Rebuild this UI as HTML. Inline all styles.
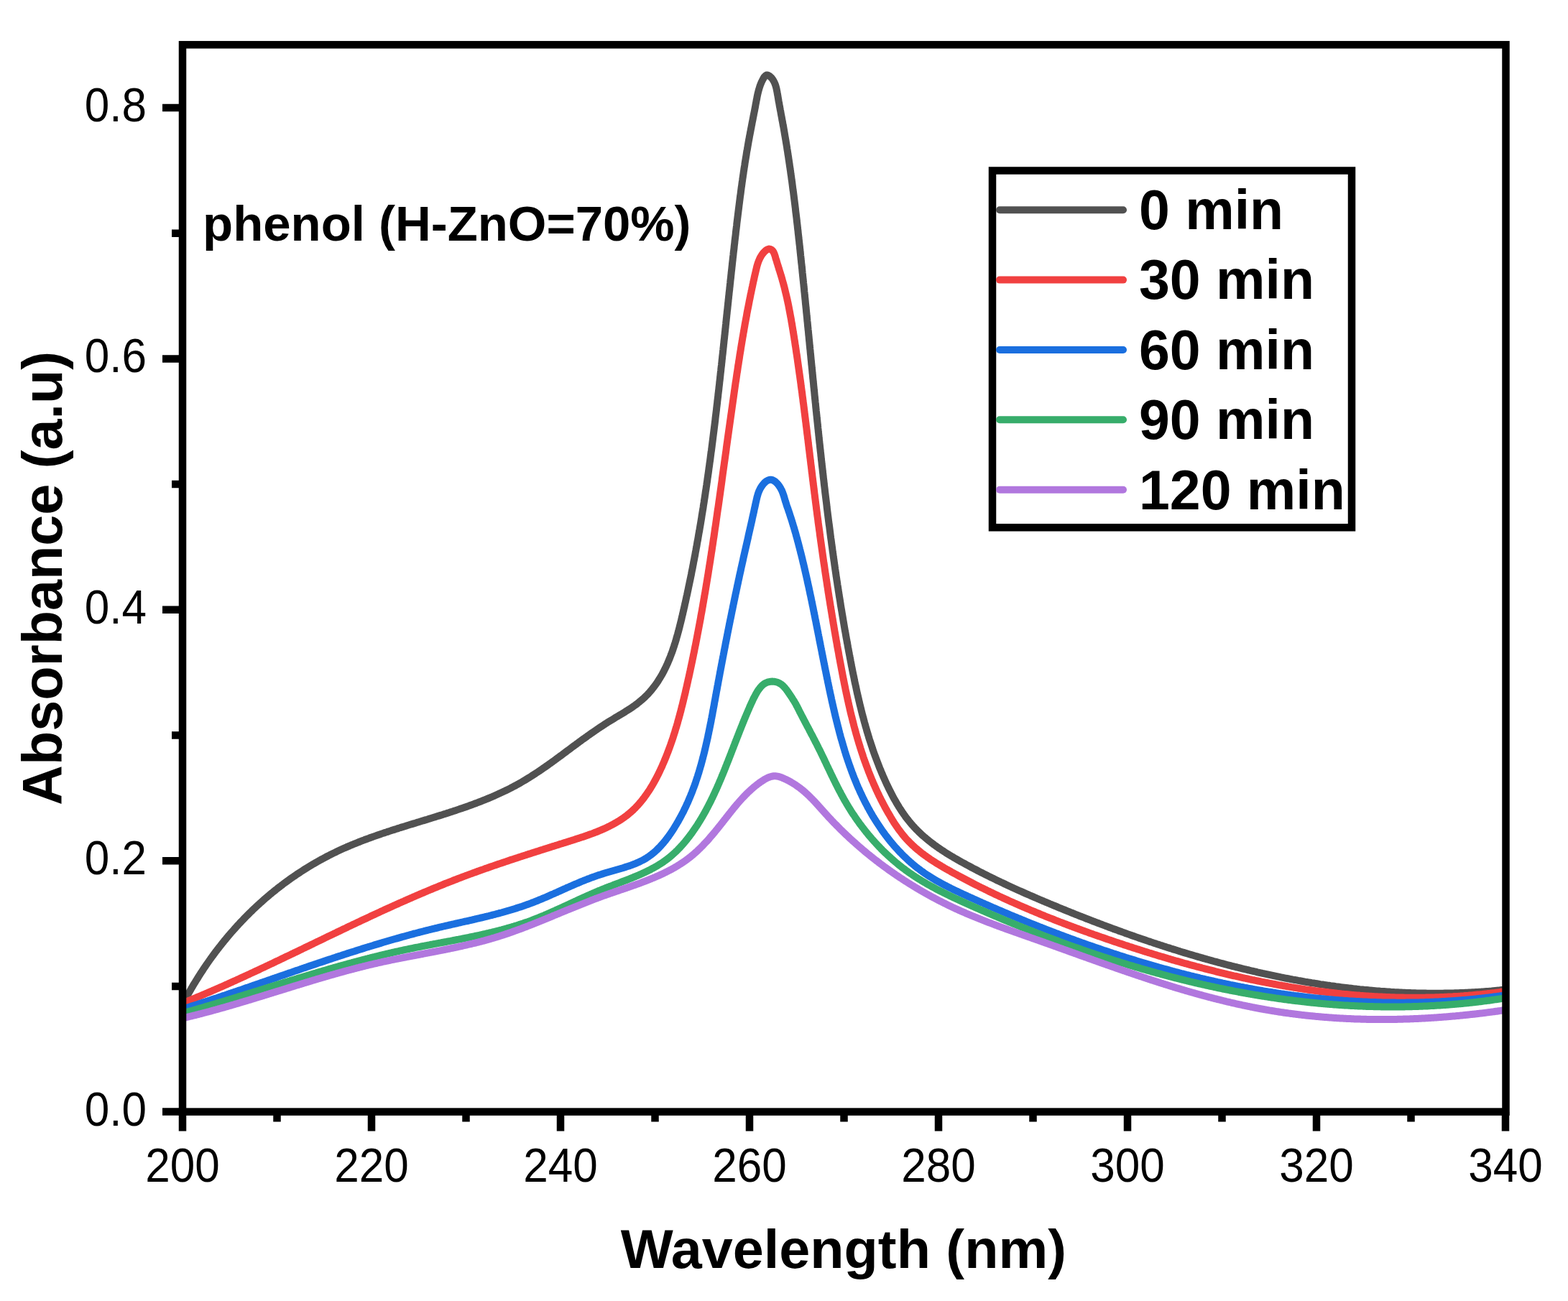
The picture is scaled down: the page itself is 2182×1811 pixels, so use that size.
<!DOCTYPE html><html><head><meta charset="utf-8"><style>html,body{margin:0;padding:0;background:#fff;overflow:hidden;}svg{display:block;}text{font-family:'Liberation Sans', Arial, sans-serif;}</style></head><body>
<svg width="2182" height="1811" viewBox="0 0 2182 1811">
<rect width="2182" height="1811" fill="#fff"/>
<defs><clipPath id="c"><rect x="254.0" y="62.3" width="1841.5" height="1485.3"/></clipPath></defs>
<g clip-path="url(#c)" fill="none" stroke-width="10" stroke-linejoin="round" stroke-linecap="round">
<path d="M260.3,1386.5 L261.5,1384.4 L262.7,1382.2 L264.0,1380.0 L265.2,1377.9 L266.4,1375.8 L267.7,1373.6 L268.9,1371.5 L270.2,1369.4 L271.5,1367.3 L272.8,1365.2 L274.1,1363.1 L275.4,1361.0 L276.7,1358.9 L278.0,1356.8 L279.3,1354.8 L280.7,1352.7 L282.0,1350.7 L283.4,1348.6 L284.7,1346.6 L286.1,1344.6 L287.5,1342.5 L288.9,1340.5 L290.3,1338.5 L291.7,1336.5 L293.1,1334.5 L294.5,1332.6 L296.0,1330.6 L297.4,1328.6 L298.9,1326.7 L300.3,1324.7 L301.8,1322.8 L303.3,1320.8 L304.8,1318.9 L306.3,1317.0 L307.8,1315.1 L309.3,1313.2 L310.8,1311.3 L312.3,1309.4 L313.9,1307.6 L315.4,1305.7 L317.0,1303.8 L318.5,1302.0 L320.1,1300.1 L321.7,1298.3 L323.3,1296.5 L324.9,1294.7 L326.5,1292.9 L328.1,1291.1 L329.7,1289.3 L331.4,1287.5 L333.0,1285.7 L334.6,1284.0 L336.3,1282.2 L338.0,1280.5 L339.6,1278.8 L341.3,1277.0 L343.0,1275.3 L344.7,1273.6 L346.4,1271.9 L348.1,1270.2 L349.8,1268.6 L351.5,1266.9 L353.3,1265.2 L355.0,1263.6 L356.8,1261.9 L358.5,1260.3 L360.3,1258.7 L362.1,1257.1 L363.9,1255.5 L365.6,1253.9 L367.4,1252.3 L369.2,1250.7 L371.1,1249.2 L372.9,1247.6 L374.7,1246.1 L376.5,1244.5 L378.4,1243.0 L380.2,1241.5 L382.1,1240.0 L384.0,1238.5 L385.8,1237.0 L387.7,1235.5 L389.6,1234.1 L391.5,1232.6 L393.4,1231.2 L395.3,1229.7 L397.2,1228.3 L399.2,1226.9 L401.1,1225.5 L403.0,1224.1 L405.0,1222.7 L406.9,1221.4 L408.9,1220.0 L410.9,1218.7 L412.8,1217.3 L414.8,1216.0 L416.8,1214.7 L418.8,1213.4 L420.8,1212.1 L422.8,1210.8 L424.8,1209.5 L426.9,1208.2 L428.9,1207.0 L430.9,1205.8 L433.0,1204.5 L435.0,1203.3 L437.1,1202.1 L439.2,1200.9 L441.2,1199.7 L443.3,1198.5 L445.4,1197.4 L447.5,1196.2 L449.6,1195.1 L451.7,1194.0 L453.8,1192.8 L455.9,1191.7 L458.1,1190.6 L460.2,1189.5 L462.3,1188.5 L464.5,1187.4 L466.6,1186.4 L468.8,1185.3 L471.0,1184.3 L473.1,1183.3 L475.3,1182.3 L477.5,1181.3 L479.7,1180.3 L481.9,1179.4 L484.1,1178.4 L486.3,1177.5 L488.5,1176.5 L490.8,1175.6 L493.0,1174.7 L495.2,1173.8 L497.5,1172.9 L499.7,1172.0 L501.9,1171.1 L504.2,1170.2 L506.5,1169.4 L508.7,1168.5 L511.0,1167.7 L513.3,1166.9 L515.5,1166.0 L517.8,1165.2 L520.1,1164.4 L522.4,1163.6 L524.7,1162.8 L527.0,1162.0 L529.3,1161.2 L531.6,1160.4 L533.9,1159.6 L536.2,1158.9 L538.5,1158.1 L540.8,1157.4 L543.1,1156.6 L545.4,1155.8 L547.7,1155.1 L550.1,1154.4 L552.4,1153.6 L554.7,1152.9 L557.0,1152.1 L559.4,1151.4 L561.7,1150.7 L564.0,1150.0 L566.3,1149.2 L568.7,1148.5 L571.0,1147.8 L573.3,1147.1 L575.7,1146.4 L578.0,1145.7 L580.3,1144.9 L582.7,1144.2 L585.0,1143.5 L587.3,1142.8 L589.7,1142.1 L592.0,1141.4 L594.4,1140.7 L596.7,1139.9 L599.0,1139.2 L601.3,1138.5 L603.7,1137.8 L606.0,1137.1 L608.3,1136.3 L610.7,1135.6 L613.0,1134.9 L615.3,1134.2 L617.6,1133.4 L619.9,1132.7 L622.3,1131.9 L624.6,1131.2 L626.9,1130.4 L629.2,1129.7 L631.5,1128.9 L633.8,1128.2 L636.1,1127.4 L638.4,1126.6 L640.7,1125.8 L643.0,1125.1 L645.3,1124.3 L647.6,1123.5 L649.8,1122.7 L652.1,1121.9 L654.4,1121.0 L656.7,1120.2 L658.9,1119.4 L661.2,1118.5 L663.4,1117.7 L665.7,1116.8 L667.9,1116.0 L670.2,1115.1 L672.4,1114.2 L674.6,1113.3 L676.9,1112.4 L679.1,1111.5 L681.3,1110.6 L683.5,1109.7 L685.7,1108.7 L687.9,1107.8 L690.1,1106.8 L692.3,1105.8 L694.4,1104.8 L696.6,1103.8 L698.8,1102.8 L700.9,1101.8 L703.1,1100.8 L705.2,1099.7 L707.3,1098.7 L709.5,1097.6 L711.6,1096.5 L713.7,1095.4 L715.8,1094.3 L717.9,1093.2 L720.0,1092.0 L722.1,1090.9 L724.1,1089.7 L726.2,1088.5 L728.2,1087.3 L730.3,1086.1 L732.3,1084.9 L734.4,1083.6 L736.4,1082.4 L738.4,1081.1 L740.4,1079.8 L742.4,1078.5 L744.4,1077.2 L746.4,1075.9 L748.4,1074.6 L750.4,1073.3 L752.4,1071.9 L754.3,1070.6 L756.3,1069.2 L758.3,1067.8 L760.2,1066.5 L762.2,1065.1 L764.1,1063.7 L766.1,1062.3 L768.1,1060.9 L770.0,1059.5 L772.0,1058.1 L773.9,1056.6 L775.8,1055.2 L777.8,1053.8 L779.7,1052.4 L781.7,1050.9 L783.6,1049.5 L785.6,1048.0 L787.5,1046.6 L789.5,1045.1 L791.4,1043.7 L793.4,1042.2 L795.3,1040.8 L797.3,1039.3 L799.2,1037.9 L801.2,1036.5 L803.1,1035.0 L805.1,1033.6 L807.1,1032.1 L809.1,1030.7 L811.0,1029.2 L813.0,1027.8 L815.0,1026.4 L817.0,1024.9 L819.0,1023.5 L821.0,1022.1 L823.0,1020.7 L825.0,1019.3 L827.1,1017.9 L829.1,1016.5 L831.1,1015.1 L833.2,1013.7 L835.2,1012.3 L837.3,1011.0 L839.4,1009.6 L841.4,1008.3 L843.5,1006.9 L845.6,1005.6 L847.7,1004.3 L849.8,1003.0 L852.0,1001.7 L854.1,1000.4 L856.2,999.1 L858.4,997.8 L860.5,996.6 L862.6,995.3 L864.8,994.0 L866.9,992.7 L869.0,991.4 L871.1,990.1 L873.2,988.8 L875.2,987.5 L877.3,986.2 L879.3,984.8 L881.3,983.4 L883.3,982.0 L885.2,980.6 L887.1,979.2 L889.0,977.7 L890.8,976.2 L892.6,974.7 L894.4,973.2 L896.1,971.6 L897.8,970.0 L899.5,968.3 L901.1,966.7 L902.7,965.0 L904.2,963.3 L905.7,961.5 L907.2,959.7 L908.6,957.9 L910.0,956.1 L911.4,954.3 L912.8,952.4 L914.1,950.5 L915.4,948.6 L916.6,946.6 L917.8,944.7 L919.0,942.7 L920.2,940.7 L921.4,938.7 L922.5,936.6 L923.6,934.6 L924.6,932.5 L925.7,930.4 L926.7,928.3 L927.7,926.2 L928.7,924.0 L929.6,921.8 L930.5,919.7 L931.4,917.5 L932.3,915.3 L933.2,913.0 L934.0,910.8 L934.9,908.6 L935.7,906.3 L936.5,904.0 L937.2,901.7 L938.0,899.5 L938.7,897.1 L939.5,894.8 L940.2,892.5 L940.9,890.2 L941.5,887.8 L942.2,885.5 L942.9,883.1 L943.5,880.8 L944.2,878.4 L944.8,876.0 L945.4,873.7 L946.0,871.3 L946.6,868.9 L947.2,866.5 L947.8,864.1 L948.4,861.7 L948.9,859.3 L949.5,856.9 L950.1,854.5 L950.6,852.1 L951.2,849.7 L951.7,847.3 L952.3,844.9 L952.8,842.5 L953.3,840.1 L953.9,837.7 L954.4,835.3 L954.9,832.9 L955.4,830.5 L956.0,828.1 L956.5,825.7 L957.0,823.3 L957.5,820.9 L958.0,818.5 L958.5,816.1 L959.0,813.7 L959.5,811.3 L960.0,808.9 L960.5,806.6 L961.0,804.2 L961.5,801.8 L962.0,799.4 L962.4,797.0 L962.9,794.6 L963.4,792.2 L963.9,789.8 L964.3,787.4 L964.8,785.0 L965.2,782.6 L965.7,780.2 L966.2,777.8 L966.6,775.4 L967.1,773.1 L967.5,770.7 L967.9,768.3 L968.4,765.9 L968.8,763.5 L969.3,761.1 L969.7,758.7 L970.1,756.3 L970.5,753.9 L971.0,751.6 L971.4,749.2 L971.8,746.8 L972.2,744.4 L972.6,742.0 L973.1,739.6 L973.5,737.2 L973.9,734.8 L974.3,732.4 L974.7,730.1 L975.1,727.7 L975.5,725.3 L975.9,722.9 L976.3,720.5 L976.6,718.1 L977.0,715.7 L977.4,713.4 L977.8,711.0 L978.2,708.6 L978.6,706.2 L978.9,703.8 L979.3,701.4 L979.7,699.0 L980.0,696.7 L980.4,694.3 L980.8,691.9 L981.1,689.5 L981.5,687.1 L981.8,684.7 L982.2,682.4 L982.6,680.0 L982.9,677.6 L983.3,675.2 L983.6,672.8 L984.0,670.4 L984.3,668.1 L984.6,665.7 L985.0,663.3 L985.3,660.9 L985.7,658.5 L986.0,656.1 L986.3,653.8 L986.6,651.4 L987.0,649.0 L987.3,646.6 L987.6,644.2 L988.0,641.8 L988.3,639.5 L988.6,637.1 L988.9,634.7 L989.2,632.3 L989.5,629.9 L989.9,627.5 L990.2,625.2 L990.5,622.8 L990.8,620.4 L991.1,618.0 L991.4,615.6 L991.7,613.3 L992.0,610.9 L992.3,608.5 L992.6,606.1 L992.9,603.7 L993.2,601.3 L993.5,599.0 L993.8,596.6 L994.1,594.2 L994.4,591.8 L994.7,589.4 L995.0,587.0 L995.3,584.7 L995.5,582.3 L995.8,579.9 L996.1,577.5 L996.4,575.1 L996.7,572.7 L997.0,570.4 L997.2,568.0 L997.5,565.6 L997.8,563.2 L998.1,560.8 L998.3,558.4 L998.6,556.1 L998.9,553.7 L999.2,551.3 L999.4,548.9 L999.7,546.5 L1000.0,544.1 L1000.3,541.7 L1000.5,539.4 L1000.8,537.0 L1001.1,534.6 L1001.3,532.2 L1001.6,529.8 L1001.9,527.4 L1002.1,525.0 L1002.4,522.7 L1002.6,520.3 L1002.9,517.9 L1003.2,515.5 L1003.4,513.1 L1003.7,510.7 L1004.0,508.3 L1004.2,506.0 L1004.5,503.6 L1004.7,501.2 L1005.0,498.8 L1005.2,496.4 L1005.5,494.0 L1005.8,491.6 L1006.0,489.2 L1006.3,486.8 L1006.5,484.5 L1006.8,482.1 L1007.0,479.7 L1007.3,477.3 L1007.5,474.9 L1007.8,472.5 L1008.1,470.1 L1008.3,467.7 L1008.6,465.3 L1008.8,462.9 L1009.1,460.6 L1009.3,458.2 L1009.6,455.8 L1009.8,453.4 L1010.1,451.0 L1010.3,448.6 L1010.6,446.2 L1010.8,443.8 L1011.1,441.4 L1011.3,439.0 L1011.6,436.6 L1011.8,434.2 L1012.1,431.8 L1012.4,429.4 L1012.6,427.0 L1012.9,424.6 L1013.1,422.2 L1013.4,419.8 L1013.6,417.4 L1013.9,415.1 L1014.1,412.7 L1014.4,410.3 L1014.6,407.9 L1014.9,405.5 L1015.2,403.1 L1015.4,400.7 L1015.7,398.3 L1015.9,395.9 L1016.2,393.5 L1016.4,391.1 L1016.7,388.7 L1017.0,386.3 L1017.2,383.8 L1017.5,381.4 L1017.7,379.0 L1018.0,376.6 L1018.3,374.2 L1018.5,371.8 L1018.8,369.4 L1019.0,367.0 L1019.3,364.6 L1019.6,362.2 L1019.8,359.8 L1020.1,357.4 L1020.4,355.0 L1020.6,352.6 L1020.9,350.2 L1021.2,347.8 L1021.5,345.4 L1021.7,342.9 L1022.0,340.5 L1022.3,338.1 L1022.5,335.7 L1022.8,333.3 L1023.1,330.9 L1023.4,328.5 L1023.7,326.1 L1023.9,323.6 L1024.2,321.2 L1024.5,318.8 L1024.8,316.4 L1025.1,314.0 L1025.3,311.6 L1025.6,309.2 L1025.9,306.7 L1026.2,304.3 L1026.5,301.9 L1026.8,299.5 L1027.1,297.1 L1027.4,294.7 L1027.7,292.2 L1028.0,289.8 L1028.3,287.4 L1028.6,285.0 L1028.9,282.6 L1029.2,280.2 L1029.5,277.8 L1029.8,275.3 L1030.1,272.9 L1030.5,270.5 L1030.8,268.1 L1031.1,265.7 L1031.4,263.3 L1031.7,260.9 L1032.1,258.5 L1032.4,256.1 L1032.7,253.7 L1033.1,251.2 L1033.4,248.8 L1033.8,246.4 L1034.1,244.0 L1034.5,241.6 L1034.8,239.2 L1035.2,236.8 L1035.5,234.5 L1035.9,232.1 L1036.3,229.7 L1036.6,227.3 L1037.0,224.9 L1037.4,222.5 L1037.8,220.1 L1038.2,217.7 L1038.6,215.4 L1038.9,213.0 L1039.3,210.6 L1039.8,208.2 L1040.2,205.9 L1040.6,203.5 L1041.0,201.1 L1041.4,198.7 L1041.8,196.4 L1042.3,194.0 L1042.7,191.7 L1043.1,189.3 L1043.6,187.0 L1044.0,184.6 L1044.5,182.3 L1044.9,179.9 L1045.4,177.6 L1045.8,175.2 L1046.3,172.9 L1046.7,170.5 L1047.2,168.2 L1047.7,165.8 L1048.1,163.5 L1048.6,161.1 L1049.0,158.8 L1049.5,156.5 L1050.0,154.1 L1050.4,151.7 L1050.9,149.4 L1051.3,147.0 L1051.7,144.7 L1052.2,142.3 L1052.6,139.9 L1053.1,137.6 L1053.5,135.2 L1054.0,132.8 L1054.5,130.5 L1055.1,128.1 L1055.7,125.7 L1056.4,123.4 L1057.1,121.1 L1057.9,118.7 L1058.8,116.4 L1059.8,114.1 L1060.9,111.8 L1062.1,109.6 L1063.4,107.4 L1064.9,105.7 L1066.5,104.6 L1068.3,104.5 L1070.2,105.4 L1072.0,106.9 L1073.7,108.5 L1075.1,110.3 L1076.3,112.2 L1077.4,114.3 L1078.4,116.5 L1079.2,118.7 L1079.9,121.1 L1080.5,123.5 L1081.0,126.0 L1081.5,128.5 L1081.9,131.0 L1082.4,133.5 L1082.8,136.0 L1083.2,138.4 L1083.6,140.9 L1084.1,143.3 L1084.5,145.8 L1084.9,148.2 L1085.4,150.6 L1085.8,152.9 L1086.3,155.3 L1086.7,157.7 L1087.1,160.0 L1087.6,162.4 L1088.0,164.7 L1088.4,167.1 L1088.9,169.4 L1089.3,171.8 L1089.7,174.1 L1090.2,176.4 L1090.6,178.8 L1091.0,181.1 L1091.4,183.5 L1091.8,185.8 L1092.2,188.2 L1092.6,190.5 L1093.0,192.9 L1093.4,195.2 L1093.8,197.6 L1094.2,200.0 L1094.6,202.3 L1095.0,204.7 L1095.3,207.0 L1095.7,209.4 L1096.1,211.8 L1096.4,214.1 L1096.8,216.5 L1097.2,218.9 L1097.5,221.3 L1097.9,223.6 L1098.2,226.0 L1098.6,228.4 L1098.9,230.8 L1099.3,233.1 L1099.6,235.5 L1100.0,237.9 L1100.3,240.3 L1100.6,242.7 L1101.0,245.0 L1101.3,247.4 L1101.6,249.8 L1102.0,252.2 L1102.3,254.6 L1102.6,257.0 L1102.9,259.4 L1103.2,261.8 L1103.5,264.1 L1103.9,266.5 L1104.2,268.9 L1104.5,271.3 L1104.8,273.7 L1105.1,276.1 L1105.4,278.5 L1105.7,280.9 L1106.0,283.3 L1106.3,285.7 L1106.6,288.1 L1106.9,290.5 L1107.1,292.9 L1107.4,295.3 L1107.7,297.7 L1108.0,300.1 L1108.3,302.5 L1108.6,304.9 L1108.8,307.3 L1109.1,309.7 L1109.4,312.1 L1109.7,314.5 L1109.9,316.9 L1110.2,319.3 L1110.5,321.7 L1110.7,324.2 L1111.0,326.6 L1111.3,329.0 L1111.5,331.4 L1111.8,333.8 L1112.1,336.2 L1112.3,338.6 L1112.6,341.0 L1112.9,343.4 L1113.1,345.8 L1113.4,348.2 L1113.6,350.6 L1113.9,353.1 L1114.1,355.5 L1114.4,357.9 L1114.6,360.3 L1114.9,362.7 L1115.1,365.1 L1115.4,367.5 L1115.7,369.9 L1115.9,372.3 L1116.2,374.7 L1116.4,377.1 L1116.6,379.5 L1116.9,382.0 L1117.1,384.4 L1117.4,386.8 L1117.6,389.2 L1117.9,391.6 L1118.1,394.0 L1118.4,396.4 L1118.6,398.8 L1118.9,401.2 L1119.1,403.6 L1119.3,406.0 L1119.6,408.4 L1119.8,410.9 L1120.1,413.3 L1120.3,415.7 L1120.6,418.1 L1120.8,420.5 L1121.0,422.9 L1121.3,425.3 L1121.5,427.7 L1121.8,430.1 L1122.0,432.5 L1122.2,434.9 L1122.5,437.3 L1122.7,439.7 L1123.0,442.1 L1123.2,444.6 L1123.4,447.0 L1123.7,449.4 L1123.9,451.8 L1124.1,454.2 L1124.4,456.6 L1124.6,459.0 L1124.9,461.4 L1125.1,463.8 L1125.3,466.2 L1125.6,468.6 L1125.8,471.0 L1126.0,473.4 L1126.3,475.8 L1126.5,478.2 L1126.7,480.6 L1127.0,483.0 L1127.2,485.5 L1127.5,487.9 L1127.7,490.3 L1127.9,492.7 L1128.2,495.1 L1128.4,497.5 L1128.6,499.9 L1128.9,502.3 L1129.1,504.7 L1129.3,507.1 L1129.6,509.5 L1129.8,511.9 L1130.1,514.3 L1130.3,516.7 L1130.5,519.1 L1130.8,521.5 L1131.0,523.9 L1131.2,526.3 L1131.5,528.7 L1131.7,531.1 L1132.0,533.5 L1132.2,535.9 L1132.4,538.3 L1132.7,540.7 L1132.9,543.1 L1133.2,545.5 L1133.4,547.9 L1133.6,550.3 L1133.9,552.7 L1134.1,555.2 L1134.4,557.6 L1134.6,560.0 L1134.9,562.4 L1135.1,564.8 L1135.3,567.2 L1135.6,569.6 L1135.8,572.0 L1136.1,574.4 L1136.3,576.8 L1136.6,579.2 L1136.8,581.6 L1137.1,584.0 L1137.3,586.4 L1137.6,588.8 L1137.8,591.2 L1138.1,593.6 L1138.3,596.0 L1138.6,598.4 L1138.8,600.8 L1139.1,603.2 L1139.3,605.6 L1139.6,608.0 L1139.8,610.4 L1140.1,612.8 L1140.3,615.2 L1140.6,617.6 L1140.9,620.0 L1141.1,622.4 L1141.4,624.8 L1141.6,627.1 L1141.9,629.5 L1142.2,631.9 L1142.4,634.3 L1142.7,636.7 L1142.9,639.1 L1143.2,641.5 L1143.5,643.9 L1143.7,646.3 L1144.0,648.7 L1144.3,651.1 L1144.6,653.5 L1144.8,655.9 L1145.1,658.3 L1145.4,660.7 L1145.6,663.1 L1145.9,665.5 L1146.2,667.9 L1146.5,670.3 L1146.7,672.7 L1147.0,675.1 L1147.3,677.5 L1147.6,679.9 L1147.9,682.3 L1148.1,684.7 L1148.4,687.0 L1148.7,689.4 L1149.0,691.8 L1149.3,694.2 L1149.6,696.6 L1149.9,699.0 L1150.2,701.4 L1150.5,703.8 L1150.7,706.2 L1151.0,708.6 L1151.3,711.0 L1151.6,713.4 L1151.9,715.8 L1152.2,718.2 L1152.5,720.5 L1152.8,722.9 L1153.1,725.3 L1153.4,727.7 L1153.7,730.1 L1154.1,732.5 L1154.4,734.9 L1154.7,737.3 L1155.0,739.7 L1155.3,742.1 L1155.6,744.5 L1155.9,746.8 L1156.2,749.2 L1156.6,751.6 L1156.9,754.0 L1157.2,756.4 L1157.5,758.8 L1157.9,761.2 L1158.2,763.6 L1158.5,766.0 L1158.8,768.3 L1159.2,770.7 L1159.5,773.1 L1159.8,775.5 L1160.2,777.9 L1160.5,780.3 L1160.9,782.7 L1161.2,785.1 L1161.5,787.4 L1161.9,789.8 L1162.2,792.2 L1162.6,794.6 L1162.9,797.0 L1163.3,799.4 L1163.6,801.8 L1164.0,804.1 L1164.3,806.5 L1164.7,808.9 L1165.1,811.3 L1165.4,813.7 L1165.8,816.1 L1166.2,818.4 L1166.5,820.8 L1166.9,823.2 L1167.3,825.6 L1167.6,828.0 L1168.0,830.4 L1168.4,832.7 L1168.8,835.1 L1169.2,837.5 L1169.5,839.9 L1169.9,842.3 L1170.3,844.7 L1170.7,847.0 L1171.1,849.4 L1171.5,851.8 L1171.9,854.2 L1172.3,856.6 L1172.7,858.9 L1173.1,861.3 L1173.5,863.7 L1173.9,866.1 L1174.3,868.5 L1174.7,870.8 L1175.1,873.2 L1175.5,875.6 L1175.9,878.0 L1176.4,880.4 L1176.8,882.7 L1177.2,885.1 L1177.6,887.5 L1178.1,889.9 L1178.5,892.2 L1178.9,894.6 L1179.4,897.0 L1179.8,899.4 L1180.2,901.7 L1180.7,904.1 L1181.1,906.5 L1181.6,908.9 L1182.0,911.2 L1182.5,913.6 L1182.9,916.0 L1183.4,918.4 L1183.8,920.7 L1184.3,923.1 L1184.7,925.5 L1185.2,927.9 L1185.7,930.2 L1186.1,932.6 L1186.6,935.0 L1187.1,937.4 L1187.6,939.7 L1188.1,942.1 L1188.6,944.5 L1189.0,946.8 L1189.5,949.2 L1190.0,951.6 L1190.6,953.9 L1191.1,956.3 L1191.6,958.7 L1192.1,961.0 L1192.6,963.4 L1193.1,965.7 L1193.7,968.1 L1194.2,970.5 L1194.8,972.8 L1195.3,975.2 L1195.9,977.5 L1196.4,979.9 L1197.0,982.2 L1197.6,984.6 L1198.2,986.9 L1198.7,989.3 L1199.3,991.6 L1199.9,993.9 L1200.5,996.3 L1201.2,998.6 L1201.8,1000.9 L1202.4,1003.3 L1203.0,1005.6 L1203.7,1007.9 L1204.3,1010.3 L1205.0,1012.6 L1205.7,1014.9 L1206.3,1017.2 L1207.0,1019.5 L1207.7,1021.8 L1208.4,1024.1 L1209.1,1026.5 L1209.8,1028.8 L1210.6,1031.1 L1211.3,1033.4 L1212.1,1035.7 L1212.8,1037.9 L1213.6,1040.2 L1214.3,1042.5 L1215.1,1044.8 L1215.9,1047.1 L1216.7,1049.4 L1217.5,1051.6 L1218.4,1053.9 L1219.2,1056.2 L1220.1,1058.4 L1220.9,1060.7 L1221.8,1062.9 L1222.7,1065.2 L1223.5,1067.4 L1224.4,1069.7 L1225.4,1071.9 L1226.3,1074.2 L1227.2,1076.4 L1228.2,1078.6 L1229.1,1080.8 L1230.1,1083.1 L1231.1,1085.3 L1232.1,1087.5 L1233.1,1089.7 L1234.1,1091.9 L1235.2,1094.1 L1236.2,1096.3 L1237.3,1098.5 L1238.4,1100.6 L1239.5,1102.8 L1240.6,1105.0 L1241.7,1107.1 L1242.8,1109.3 L1244.0,1111.4 L1245.2,1113.5 L1246.4,1115.6 L1247.6,1117.7 L1248.8,1119.8 L1250.1,1121.8 L1251.3,1123.9 L1252.6,1125.9 L1254.0,1127.9 L1255.3,1129.9 L1256.6,1131.9 L1258.0,1133.9 L1259.4,1135.8 L1260.8,1137.8 L1262.3,1139.7 L1263.8,1141.5 L1265.2,1143.4 L1266.8,1145.3 L1268.3,1147.1 L1269.9,1148.9 L1271.5,1150.6 L1273.1,1152.4 L1274.7,1154.1 L1276.4,1155.8 L1278.1,1157.5 L1279.8,1159.1 L1281.5,1160.8 L1283.3,1162.4 L1285.1,1164.0 L1286.9,1165.5 L1288.7,1167.1 L1290.6,1168.6 L1292.4,1170.1 L1294.3,1171.6 L1296.2,1173.1 L1298.1,1174.5 L1300.0,1176.0 L1302.0,1177.4 L1304.0,1178.8 L1305.9,1180.2 L1307.9,1181.5 L1309.9,1182.9 L1312.0,1184.2 L1314.0,1185.6 L1316.0,1186.9 L1318.1,1188.2 L1320.2,1189.5 L1322.2,1190.7 L1324.3,1192.0 L1326.4,1193.2 L1328.5,1194.5 L1330.6,1195.7 L1332.7,1196.9 L1334.9,1198.1 L1337.0,1199.3 L1339.1,1200.5 L1341.3,1201.7 L1343.4,1202.8 L1345.5,1204.0 L1347.7,1205.2 L1349.8,1206.3 L1352.0,1207.5 L1354.1,1208.6 L1356.3,1209.7 L1358.4,1210.8 L1360.6,1212.0 L1362.7,1213.1 L1364.9,1214.2 L1367.1,1215.3 L1369.2,1216.4 L1371.4,1217.5 L1373.5,1218.5 L1375.7,1219.6 L1377.9,1220.7 L1380.0,1221.8 L1382.2,1222.8 L1384.4,1223.9 L1386.5,1224.9 L1388.7,1226.0 L1390.9,1227.0 L1393.1,1228.1 L1395.2,1229.1 L1397.4,1230.1 L1399.6,1231.1 L1401.8,1232.2 L1404.0,1233.2 L1406.2,1234.2 L1408.3,1235.2 L1410.5,1236.2 L1412.7,1237.2 L1414.9,1238.2 L1417.1,1239.2 L1419.3,1240.2 L1421.5,1241.1 L1423.7,1242.1 L1425.9,1243.1 L1428.1,1244.1 L1430.3,1245.0 L1432.5,1246.0 L1434.7,1247.0 L1436.9,1247.9 L1439.1,1248.9 L1441.3,1249.8 L1443.5,1250.8 L1445.7,1251.7 L1447.9,1252.7 L1450.1,1253.6 L1452.3,1254.5 L1454.5,1255.5 L1456.8,1256.4 L1459.0,1257.3 L1461.2,1258.3 L1463.4,1259.2 L1465.6,1260.1 L1467.9,1261.0 L1470.1,1261.9 L1472.3,1262.9 L1474.5,1263.8 L1476.7,1264.7 L1479.0,1265.6 L1481.2,1266.5 L1483.4,1267.4 L1485.7,1268.3 L1487.9,1269.2 L1490.1,1270.1 L1492.4,1271.0 L1494.6,1271.9 L1496.8,1272.8 L1499.1,1273.7 L1501.3,1274.6 L1503.6,1275.5 L1505.8,1276.3 L1508.1,1277.2 L1510.3,1278.1 L1512.5,1279.0 L1514.8,1279.8 L1517.0,1280.7 L1519.3,1281.6 L1521.5,1282.5 L1523.8,1283.3 L1526.1,1284.2 L1528.3,1285.0 L1530.6,1285.9 L1532.8,1286.7 L1535.1,1287.6 L1537.3,1288.4 L1539.6,1289.3 L1541.9,1290.1 L1544.1,1291.0 L1546.4,1291.8 L1548.7,1292.7 L1550.9,1293.5 L1553.2,1294.3 L1555.5,1295.1 L1557.7,1296.0 L1560.0,1296.8 L1562.3,1297.6 L1564.6,1298.4 L1566.8,1299.3 L1569.1,1300.1 L1571.4,1300.9 L1573.7,1301.7 L1575.9,1302.5 L1578.2,1303.3 L1580.5,1304.1 L1582.8,1304.9 L1585.1,1305.7 L1587.4,1306.5 L1589.6,1307.2 L1591.9,1308.0 L1594.2,1308.8 L1596.5,1309.6 L1598.8,1310.4 L1601.1,1311.1 L1603.4,1311.9 L1605.7,1312.7 L1608.0,1313.4 L1610.3,1314.2 L1612.6,1314.9 L1614.9,1315.7 L1617.2,1316.4 L1619.5,1317.2 L1621.8,1317.9 L1624.1,1318.7 L1626.4,1319.4 L1628.7,1320.1 L1631.0,1320.9 L1633.3,1321.6 L1635.6,1322.3 L1637.9,1323.0 L1640.2,1323.7 L1642.5,1324.5 L1644.8,1325.2 L1647.1,1325.9 L1649.5,1326.6 L1651.8,1327.3 L1654.1,1328.0 L1656.4,1328.7 L1658.7,1329.3 L1661.0,1330.0 L1663.4,1330.7 L1665.7,1331.4 L1668.0,1332.1 L1670.3,1332.7 L1672.7,1333.4 L1675.0,1334.1 L1677.3,1334.7 L1679.6,1335.4 L1682.0,1336.0 L1684.3,1336.7 L1686.6,1337.3 L1688.9,1338.0 L1691.3,1338.6 L1693.6,1339.2 L1695.9,1339.9 L1698.3,1340.5 L1700.6,1341.1 L1702.9,1341.7 L1705.3,1342.4 L1707.6,1343.0 L1709.9,1343.6 L1712.3,1344.2 L1714.6,1344.8 L1717.0,1345.4 L1719.3,1346.0 L1721.7,1346.5 L1724.0,1347.1 L1726.3,1347.7 L1728.7,1348.3 L1731.0,1348.9 L1733.4,1349.4 L1735.7,1350.0 L1738.1,1350.5 L1740.4,1351.1 L1742.8,1351.6 L1745.1,1352.2 L1747.5,1352.7 L1749.8,1353.3 L1752.2,1353.8 L1754.5,1354.3 L1756.9,1354.9 L1759.2,1355.4 L1761.6,1355.9 L1764.0,1356.4 L1766.3,1356.9 L1768.7,1357.4 L1771.0,1357.9 L1773.4,1358.4 L1775.8,1358.9 L1778.1,1359.4 L1780.5,1359.9 L1782.8,1360.4 L1785.2,1360.8 L1787.6,1361.3 L1789.9,1361.8 L1792.3,1362.2 L1794.7,1362.7 L1797.0,1363.1 L1799.4,1363.6 L1801.8,1364.0 L1804.2,1364.4 L1806.5,1364.9 L1808.9,1365.3 L1811.3,1365.7 L1813.6,1366.1 L1816.0,1366.6 L1818.4,1367.0 L1820.8,1367.4 L1823.1,1367.8 L1825.5,1368.2 L1827.9,1368.5 L1830.3,1368.9 L1832.7,1369.3 L1835.0,1369.7 L1837.4,1370.1 L1839.8,1370.4 L1842.2,1370.8 L1844.6,1371.1 L1846.9,1371.5 L1849.3,1371.8 L1851.7,1372.2 L1854.1,1372.5 L1856.5,1372.8 L1858.9,1373.2 L1861.3,1373.5 L1863.6,1373.8 L1866.0,1374.1 L1868.4,1374.4 L1870.8,1374.7 L1873.2,1375.0 L1875.6,1375.3 L1878.0,1375.6 L1880.4,1375.8 L1882.8,1376.1 L1885.2,1376.4 L1887.5,1376.6 L1889.9,1376.9 L1892.3,1377.2 L1894.7,1377.4 L1897.1,1377.6 L1899.5,1377.9 L1901.9,1378.1 L1904.3,1378.3 L1906.7,1378.6 L1909.1,1378.8 L1911.5,1379.0 L1913.9,1379.2 L1916.3,1379.4 L1918.7,1379.6 L1921.1,1379.8 L1923.5,1379.9 L1925.9,1380.1 L1928.3,1380.3 L1930.7,1380.5 L1933.1,1380.6 L1935.5,1380.8 L1937.9,1380.9 L1940.3,1381.1 L1942.8,1381.2 L1945.2,1381.3 L1947.6,1381.5 L1950.0,1381.6 L1952.4,1381.7 L1954.8,1381.8 L1957.2,1381.9 L1959.6,1382.0 L1962.0,1382.1 L1964.4,1382.2 L1966.8,1382.2 L1969.3,1382.3 L1971.7,1382.4 L1974.1,1382.5 L1976.5,1382.5 L1978.9,1382.6 L1981.3,1382.6 L1983.7,1382.6 L1986.2,1382.7 L1988.6,1382.7 L1991.0,1382.7 L1993.4,1382.7 L1995.8,1382.7 L1998.2,1382.7 L2000.6,1382.7 L2003.1,1382.7 L2005.5,1382.7 L2007.9,1382.7 L2010.3,1382.6 L2012.7,1382.6 L2015.2,1382.6 L2017.6,1382.5 L2020.0,1382.5 L2022.4,1382.4 L2024.8,1382.3 L2027.3,1382.3 L2029.7,1382.2 L2032.1,1382.1 L2034.5,1382.0 L2037.0,1381.9 L2039.4,1381.8 L2041.8,1381.7 L2044.2,1381.6 L2046.6,1381.5 L2049.1,1381.3 L2051.5,1381.2 L2053.9,1381.0 L2056.4,1380.9 L2058.8,1380.7 L2061.2,1380.6 L2063.6,1380.4 L2066.1,1380.2 L2068.5,1380.0 L2070.9,1379.9 L2073.3,1379.7 L2075.8,1379.5 L2078.2,1379.2 L2080.6,1379.0 L2083.1,1378.8 L2085.5,1378.6 L2087.9,1378.3 L2090.3,1378.1 L2092.8,1377.8 L2095.2,1377.6" stroke="#515151"/>
<path d="M259.6,1394.3 L261.6,1393.5 L263.5,1392.6 L265.5,1391.8 L267.5,1391.0 L269.5,1390.2 L271.5,1389.4 L273.4,1388.5 L275.4,1387.7 L277.4,1386.9 L279.4,1386.1 L281.3,1385.2 L283.3,1384.4 L285.3,1383.5 L287.2,1382.7 L289.2,1381.8 L291.2,1381.0 L293.2,1380.1 L295.1,1379.3 L297.1,1378.4 L299.1,1377.6 L301.0,1376.7 L303.0,1375.9 L305.0,1375.0 L306.9,1374.1 L308.9,1373.3 L310.8,1372.4 L312.8,1371.5 L314.8,1370.6 L316.7,1369.8 L318.7,1368.9 L320.6,1368.0 L322.6,1367.1 L324.5,1366.2 L326.5,1365.4 L328.5,1364.5 L330.4,1363.6 L332.4,1362.7 L334.3,1361.8 L336.3,1360.9 L338.2,1360.0 L340.2,1359.1 L342.1,1358.2 L344.1,1357.3 L346.0,1356.4 L348.0,1355.5 L349.9,1354.6 L351.9,1353.7 L353.8,1352.8 L355.8,1351.9 L357.7,1351.0 L359.7,1350.1 L361.6,1349.2 L363.5,1348.2 L365.5,1347.3 L367.4,1346.4 L369.4,1345.5 L371.3,1344.6 L373.3,1343.7 L375.2,1342.7 L377.2,1341.8 L379.1,1340.9 L381.0,1340.0 L383.0,1339.0 L384.9,1338.1 L386.9,1337.2 L388.8,1336.3 L390.7,1335.3 L392.7,1334.4 L394.6,1333.5 L396.6,1332.5 L398.5,1331.6 L400.4,1330.7 L402.4,1329.8 L404.3,1328.8 L406.3,1327.9 L408.2,1327.0 L410.1,1326.0 L412.1,1325.1 L414.0,1324.2 L416.0,1323.2 L417.9,1322.3 L419.8,1321.4 L421.8,1320.4 L423.7,1319.5 L425.6,1318.5 L427.6,1317.6 L429.5,1316.7 L431.5,1315.7 L433.4,1314.8 L435.3,1313.9 L437.3,1312.9 L439.2,1312.0 L441.1,1311.1 L443.1,1310.1 L445.0,1309.2 L447.0,1308.3 L448.9,1307.3 L450.8,1306.4 L452.8,1305.4 L454.7,1304.5 L456.6,1303.6 L458.6,1302.6 L460.5,1301.7 L462.5,1300.8 L464.4,1299.8 L466.3,1298.9 L468.3,1298.0 L470.2,1297.0 L472.2,1296.1 L474.1,1295.2 L476.0,1294.3 L478.0,1293.3 L479.9,1292.4 L481.9,1291.5 L483.8,1290.5 L485.7,1289.6 L487.7,1288.7 L489.6,1287.8 L491.6,1286.8 L493.5,1285.9 L495.5,1285.0 L497.4,1284.1 L499.3,1283.2 L501.3,1282.2 L503.2,1281.3 L505.2,1280.4 L507.1,1279.5 L509.1,1278.6 L511.0,1277.7 L513.0,1276.8 L514.9,1275.8 L516.9,1274.9 L518.8,1274.0 L520.8,1273.1 L522.7,1272.2 L524.7,1271.3 L526.6,1270.4 L528.6,1269.5 L530.5,1268.6 L532.5,1267.7 L534.4,1266.8 L536.4,1265.9 L538.3,1265.0 L540.3,1264.1 L542.2,1263.3 L544.2,1262.4 L546.2,1261.5 L548.1,1260.6 L550.1,1259.7 L552.0,1258.8 L554.0,1258.0 L555.9,1257.1 L557.9,1256.2 L559.9,1255.3 L561.8,1254.5 L563.8,1253.6 L565.8,1252.7 L567.7,1251.9 L569.7,1251.0 L571.7,1250.1 L573.6,1249.3 L575.6,1248.4 L577.6,1247.6 L579.5,1246.7 L581.5,1245.9 L583.5,1245.0 L585.5,1244.2 L587.4,1243.3 L589.4,1242.5 L591.4,1241.7 L593.4,1240.8 L595.3,1240.0 L597.3,1239.2 L599.3,1238.3 L601.3,1237.5 L603.3,1236.7 L605.2,1235.9 L607.2,1235.1 L609.2,1234.3 L611.2,1233.4 L613.2,1232.6 L615.2,1231.8 L617.2,1231.0 L619.1,1230.2 L621.1,1229.4 L623.1,1228.7 L625.1,1227.9 L627.1,1227.1 L629.1,1226.3 L631.1,1225.5 L633.1,1224.7 L635.1,1224.0 L637.1,1223.2 L639.1,1222.4 L641.1,1221.7 L643.1,1220.9 L645.1,1220.1 L647.1,1219.4 L649.1,1218.6 L651.1,1217.9 L653.2,1217.1 L655.2,1216.4 L657.2,1215.7 L659.2,1214.9 L661.2,1214.2 L663.2,1213.5 L665.2,1212.7 L667.3,1212.0 L669.3,1211.3 L671.3,1210.6 L673.3,1209.9 L675.3,1209.1 L677.4,1208.4 L679.4,1207.7 L681.4,1207.0 L683.5,1206.3 L685.5,1205.6 L687.5,1204.9 L689.5,1204.2 L691.6,1203.5 L693.6,1202.8 L695.6,1202.1 L697.7,1201.4 L699.7,1200.7 L701.8,1200.1 L703.8,1199.4 L705.8,1198.7 L707.9,1198.0 L709.9,1197.3 L712.0,1196.6 L714.0,1196.0 L716.1,1195.3 L718.1,1194.6 L720.1,1194.0 L722.2,1193.3 L724.2,1192.6 L726.3,1191.9 L728.4,1191.3 L730.4,1190.6 L732.5,1189.9 L734.5,1189.3 L736.6,1188.6 L738.6,1188.0 L740.7,1187.3 L742.7,1186.6 L744.8,1186.0 L746.9,1185.3 L748.9,1184.7 L751.0,1184.0 L753.1,1183.3 L755.1,1182.7 L757.2,1182.0 L759.3,1181.4 L761.3,1180.7 L763.4,1180.1 L765.5,1179.4 L767.5,1178.8 L769.6,1178.1 L771.7,1177.5 L773.8,1176.8 L775.8,1176.2 L777.9,1175.5 L780.0,1174.8 L782.1,1174.2 L784.2,1173.5 L786.2,1172.9 L788.3,1172.2 L790.4,1171.6 L792.5,1170.9 L794.6,1170.3 L796.6,1169.6 L798.7,1169.0 L800.8,1168.3 L802.9,1167.6 L805.0,1166.9 L807.0,1166.3 L809.1,1165.6 L811.2,1164.9 L813.2,1164.2 L815.3,1163.5 L817.3,1162.8 L819.4,1162.0 L821.4,1161.3 L823.4,1160.6 L825.5,1159.8 L827.5,1159.0 L829.5,1158.3 L831.5,1157.5 L833.5,1156.7 L835.4,1155.8 L837.4,1155.0 L839.4,1154.1 L841.3,1153.3 L843.2,1152.4 L845.1,1151.5 L847.0,1150.6 L848.9,1149.6 L850.8,1148.6 L852.7,1147.7 L854.5,1146.7 L856.3,1145.6 L858.1,1144.6 L859.9,1143.5 L861.7,1142.4 L863.5,1141.3 L865.2,1140.1 L866.9,1139.0 L868.6,1137.8 L870.3,1136.5 L872.0,1135.3 L873.6,1134.0 L875.2,1132.7 L876.8,1131.3 L878.4,1130.0 L880.0,1128.6 L881.5,1127.1 L883.0,1125.7 L884.5,1124.2 L885.9,1122.7 L887.4,1121.1 L888.8,1119.5 L890.2,1117.9 L891.6,1116.3 L892.9,1114.7 L894.2,1113.0 L895.6,1111.3 L896.8,1109.6 L898.1,1107.8 L899.4,1106.1 L900.6,1104.3 L901.8,1102.5 L903.0,1100.7 L904.2,1098.9 L905.4,1097.0 L906.5,1095.1 L907.6,1093.3 L908.7,1091.4 L909.8,1089.5 L910.9,1087.5 L912.0,1085.6 L913.0,1083.7 L914.0,1081.7 L915.0,1079.7 L916.0,1077.8 L917.0,1075.8 L918.0,1073.8 L918.9,1071.8 L919.8,1069.8 L920.8,1067.8 L921.7,1065.7 L922.5,1063.7 L923.4,1061.7 L924.3,1059.7 L925.1,1057.6 L926.0,1055.6 L926.8,1053.6 L927.6,1051.5 L928.4,1049.5 L929.2,1047.4 L930.0,1045.4 L930.7,1043.4 L931.5,1041.3 L932.2,1039.3 L933.0,1037.2 L933.7,1035.2 L934.4,1033.2 L935.1,1031.1 L935.8,1029.1 L936.5,1027.0 L937.1,1025.0 L937.8,1022.9 L938.4,1020.9 L939.1,1018.8 L939.7,1016.8 L940.3,1014.7 L941.0,1012.6 L941.6,1010.6 L942.2,1008.5 L942.8,1006.5 L943.3,1004.4 L943.9,1002.3 L944.5,1000.3 L945.1,998.2 L945.6,996.2 L946.2,994.1 L946.7,992.0 L947.3,990.0 L947.8,987.9 L948.3,985.8 L948.8,983.7 L949.4,981.7 L949.9,979.6 L950.4,977.5 L950.9,975.5 L951.4,973.4 L951.9,971.3 L952.4,969.2 L952.9,967.2 L953.4,965.1 L953.9,963.0 L954.3,960.9 L954.8,958.8 L955.3,956.8 L955.8,954.7 L956.2,952.6 L956.7,950.5 L957.2,948.4 L957.6,946.3 L958.1,944.2 L958.6,942.2 L959.0,940.1 L959.5,938.0 L959.9,935.9 L960.4,933.8 L960.8,931.7 L961.3,929.6 L961.7,927.5 L962.2,925.4 L962.6,923.3 L963.1,921.2 L963.5,919.1 L963.9,917.0 L964.4,914.9 L964.8,912.8 L965.2,910.7 L965.7,908.6 L966.1,906.5 L966.5,904.4 L966.9,902.3 L967.3,900.2 L967.8,898.1 L968.2,896.0 L968.6,893.9 L969.0,891.8 L969.4,889.7 L969.8,887.6 L970.2,885.5 L970.6,883.4 L971.0,881.3 L971.4,879.2 L971.8,877.1 L972.2,875.0 L972.6,872.8 L973.0,870.7 L973.4,868.6 L973.8,866.5 L974.2,864.4 L974.6,862.3 L975.0,860.2 L975.3,858.0 L975.7,855.9 L976.1,853.8 L976.5,851.7 L976.9,849.6 L977.2,847.5 L977.6,845.3 L978.0,843.2 L978.3,841.1 L978.7,839.0 L979.1,836.9 L979.4,834.7 L979.8,832.6 L980.2,830.5 L980.5,828.4 L980.9,826.3 L981.3,824.1 L981.6,822.0 L982.0,819.9 L982.3,817.8 L982.7,815.6 L983.0,813.5 L983.4,811.4 L983.7,809.3 L984.1,807.1 L984.4,805.0 L984.8,802.9 L985.1,800.8 L985.5,798.6 L985.8,796.5 L986.1,794.4 L986.5,792.2 L986.8,790.1 L987.1,788.0 L987.5,785.9 L987.8,783.7 L988.2,781.6 L988.5,779.5 L988.8,777.3 L989.1,775.2 L989.5,773.1 L989.8,770.9 L990.1,768.8 L990.5,766.7 L990.8,764.5 L991.1,762.4 L991.4,760.3 L991.8,758.1 L992.1,756.0 L992.4,753.9 L992.7,751.7 L993.0,749.6 L993.4,747.5 L993.7,745.3 L994.0,743.2 L994.3,741.1 L994.6,738.9 L994.9,736.8 L995.2,734.7 L995.6,732.5 L995.9,730.4 L996.2,728.3 L996.5,726.1 L996.8,724.0 L997.1,721.8 L997.4,719.7 L997.7,717.6 L998.0,715.4 L998.3,713.3 L998.6,711.2 L998.9,709.0 L999.3,706.9 L999.6,704.8 L999.9,702.6 L1000.2,700.5 L1000.5,698.3 L1000.8,696.2 L1001.1,694.1 L1001.4,691.9 L1001.7,689.8 L1002.0,687.7 L1002.3,685.5 L1002.6,683.4 L1002.9,681.3 L1003.2,679.1 L1003.5,677.0 L1003.8,674.8 L1004.1,672.7 L1004.4,670.6 L1004.7,668.4 L1004.9,666.3 L1005.2,664.2 L1005.5,662.0 L1005.8,659.9 L1006.1,657.7 L1006.4,655.6 L1006.7,653.5 L1007.0,651.3 L1007.3,649.2 L1007.6,647.1 L1007.9,644.9 L1008.2,642.8 L1008.5,640.7 L1008.8,638.5 L1009.1,636.4 L1009.4,634.3 L1009.7,632.1 L1010.0,630.0 L1010.3,627.9 L1010.6,625.7 L1010.8,623.6 L1011.1,621.5 L1011.4,619.3 L1011.7,617.2 L1012.0,615.1 L1012.3,612.9 L1012.6,610.8 L1012.9,608.7 L1013.2,606.5 L1013.5,604.4 L1013.8,602.3 L1014.1,600.1 L1014.4,598.0 L1014.7,595.9 L1015.0,593.7 L1015.3,591.6 L1015.6,589.5 L1015.9,587.3 L1016.2,585.2 L1016.5,583.1 L1016.8,581.0 L1017.1,578.8 L1017.4,576.7 L1017.7,574.6 L1018.0,572.5 L1018.3,570.3 L1018.6,568.2 L1018.9,566.1 L1019.2,563.9 L1019.5,561.8 L1019.8,559.7 L1020.1,557.6 L1020.4,555.5 L1020.7,553.3 L1021.0,551.2 L1021.3,549.1 L1021.6,547.0 L1021.9,544.8 L1022.2,542.7 L1022.5,540.6 L1022.8,538.5 L1023.1,536.4 L1023.4,534.2 L1023.7,532.1 L1024.1,530.0 L1024.4,527.9 L1024.7,525.8 L1025.0,523.6 L1025.3,521.5 L1025.6,519.4 L1026.0,517.3 L1026.3,515.2 L1026.6,513.1 L1026.9,510.9 L1027.2,508.8 L1027.6,506.7 L1027.9,504.6 L1028.2,502.5 L1028.6,500.4 L1028.9,498.2 L1029.2,496.1 L1029.5,494.0 L1029.9,491.9 L1030.2,489.8 L1030.6,487.7 L1030.9,485.6 L1031.2,483.4 L1031.6,481.3 L1031.9,479.2 L1032.3,477.1 L1032.6,475.0 L1033.0,472.9 L1033.3,470.7 L1033.7,468.6 L1034.1,466.5 L1034.4,464.4 L1034.8,462.3 L1035.2,460.2 L1035.5,458.1 L1035.9,455.9 L1036.3,453.8 L1036.6,451.7 L1037.0,449.6 L1037.4,447.5 L1037.8,445.4 L1038.2,443.3 L1038.6,441.1 L1039.0,439.0 L1039.3,436.9 L1039.7,434.8 L1040.1,432.7 L1040.5,430.6 L1041.0,428.4 L1041.4,426.3 L1041.8,424.2 L1042.2,422.1 L1042.6,420.0 L1043.0,417.9 L1043.5,415.7 L1043.9,413.6 L1044.3,411.5 L1044.7,409.4 L1045.2,407.3 L1045.6,405.2 L1046.1,403.0 L1046.5,400.9 L1047.0,398.8 L1047.4,396.7 L1047.9,394.5 L1048.3,392.4 L1048.8,390.3 L1049.3,388.2 L1049.7,386.1 L1050.2,383.9 L1050.7,381.8 L1051.2,379.7 L1051.7,377.6 L1052.2,375.4 L1052.7,373.3 L1053.2,371.2 L1053.8,369.1 L1054.4,367.1 L1055.1,365.0 L1055.9,363.0 L1056.7,361.1 L1057.6,359.2 L1058.6,357.3 L1059.7,355.5 L1060.9,353.7 L1062.3,352.0 L1063.8,350.4 L1065.4,348.9 L1067.1,347.7 L1068.8,346.8 L1070.5,346.5 L1072.2,346.9 L1073.8,347.7 L1075.2,349.1 L1076.4,350.7 L1077.3,352.7 L1078.1,354.9 L1078.8,357.1 L1079.4,359.4 L1080.1,361.6 L1080.8,363.7 L1081.4,365.9 L1082.1,368.0 L1082.7,370.1 L1083.4,372.2 L1084.0,374.3 L1084.7,376.4 L1085.3,378.4 L1085.9,380.4 L1086.6,382.5 L1087.2,384.5 L1087.8,386.5 L1088.4,388.6 L1088.9,390.6 L1089.5,392.6 L1090.1,394.7 L1090.6,396.7 L1091.2,398.8 L1091.7,400.8 L1092.2,402.9 L1092.7,405.0 L1093.2,407.1 L1093.7,409.1 L1094.2,411.2 L1094.7,413.3 L1095.2,415.4 L1095.6,417.5 L1096.1,419.6 L1096.5,421.7 L1097.0,423.8 L1097.4,425.9 L1097.8,428.0 L1098.2,430.1 L1098.6,432.2 L1099.0,434.3 L1099.4,436.5 L1099.8,438.6 L1100.2,440.7 L1100.6,442.8 L1101.0,444.9 L1101.3,447.1 L1101.7,449.2 L1102.1,451.3 L1102.4,453.5 L1102.8,455.6 L1103.1,457.7 L1103.5,459.9 L1103.8,462.0 L1104.2,464.1 L1104.5,466.3 L1104.9,468.4 L1105.2,470.6 L1105.5,472.7 L1105.9,474.8 L1106.2,477.0 L1106.5,479.1 L1106.8,481.2 L1107.2,483.4 L1107.5,485.5 L1107.8,487.6 L1108.1,489.8 L1108.4,491.9 L1108.8,494.0 L1109.1,496.2 L1109.4,498.3 L1109.7,500.4 L1110.0,502.6 L1110.3,504.7 L1110.6,506.9 L1110.9,509.0 L1111.2,511.1 L1111.5,513.3 L1111.8,515.4 L1112.1,517.5 L1112.4,519.7 L1112.7,521.8 L1113.0,523.9 L1113.3,526.1 L1113.6,528.2 L1113.9,530.3 L1114.2,532.5 L1114.5,534.6 L1114.7,536.7 L1115.0,538.9 L1115.3,541.0 L1115.6,543.1 L1115.9,545.3 L1116.2,547.4 L1116.4,549.5 L1116.7,551.7 L1117.0,553.8 L1117.3,555.9 L1117.5,558.1 L1117.8,560.2 L1118.1,562.3 L1118.4,564.5 L1118.6,566.6 L1118.9,568.7 L1119.2,570.9 L1119.4,573.0 L1119.7,575.1 L1120.0,577.3 L1120.2,579.4 L1120.5,581.5 L1120.8,583.7 L1121.0,585.8 L1121.3,587.9 L1121.6,590.1 L1121.8,592.2 L1122.1,594.3 L1122.4,596.5 L1122.6,598.6 L1122.9,600.7 L1123.1,602.9 L1123.4,605.0 L1123.7,607.1 L1123.9,609.3 L1124.2,611.4 L1124.5,613.5 L1124.7,615.7 L1125.0,617.8 L1125.2,619.9 L1125.5,622.1 L1125.7,624.2 L1126.0,626.3 L1126.3,628.5 L1126.5,630.6 L1126.8,632.7 L1127.0,634.9 L1127.3,637.0 L1127.6,639.1 L1127.8,641.3 L1128.1,643.4 L1128.3,645.5 L1128.6,647.6 L1128.9,649.8 L1129.1,651.9 L1129.4,654.0 L1129.6,656.2 L1129.9,658.3 L1130.2,660.4 L1130.4,662.6 L1130.7,664.7 L1130.9,666.8 L1131.2,669.0 L1131.5,671.1 L1131.7,673.2 L1132.0,675.4 L1132.3,677.5 L1132.5,679.6 L1132.8,681.8 L1133.1,683.9 L1133.3,686.0 L1133.6,688.1 L1133.9,690.3 L1134.1,692.4 L1134.4,694.5 L1134.7,696.7 L1134.9,698.8 L1135.2,700.9 L1135.5,703.1 L1135.8,705.2 L1136.0,707.3 L1136.3,709.5 L1136.6,711.6 L1136.9,713.7 L1137.1,715.9 L1137.4,718.0 L1137.7,720.1 L1138.0,722.2 L1138.3,724.4 L1138.5,726.5 L1138.8,728.6 L1139.1,730.8 L1139.4,732.9 L1139.7,735.0 L1140.0,737.2 L1140.3,739.3 L1140.6,741.4 L1140.8,743.6 L1141.1,745.7 L1141.4,747.8 L1141.7,749.9 L1142.0,752.1 L1142.3,754.2 L1142.6,756.3 L1142.9,758.5 L1143.2,760.6 L1143.5,762.7 L1143.8,764.9 L1144.1,767.0 L1144.4,769.1 L1144.7,771.3 L1145.0,773.4 L1145.3,775.5 L1145.6,777.6 L1145.9,779.8 L1146.2,781.9 L1146.5,784.0 L1146.9,786.2 L1147.2,788.3 L1147.5,790.4 L1147.8,792.5 L1148.1,794.7 L1148.4,796.8 L1148.7,798.9 L1149.1,801.1 L1149.4,803.2 L1149.7,805.3 L1150.0,807.4 L1150.4,809.6 L1150.7,811.7 L1151.0,813.8 L1151.3,816.0 L1151.7,818.1 L1152.0,820.2 L1152.3,822.3 L1152.6,824.5 L1153.0,826.6 L1153.3,828.7 L1153.6,830.9 L1154.0,833.0 L1154.3,835.1 L1154.7,837.2 L1155.0,839.4 L1155.3,841.5 L1155.7,843.6 L1156.0,845.7 L1156.4,847.9 L1156.7,850.0 L1157.1,852.1 L1157.4,854.2 L1157.8,856.4 L1158.1,858.5 L1158.5,860.6 L1158.8,862.7 L1159.2,864.9 L1159.5,867.0 L1159.9,869.1 L1160.3,871.2 L1160.6,873.4 L1161.0,875.5 L1161.3,877.6 L1161.7,879.7 L1162.1,881.9 L1162.4,884.0 L1162.8,886.1 L1163.2,888.2 L1163.5,890.4 L1163.9,892.5 L1164.3,894.6 L1164.7,896.7 L1165.0,898.8 L1165.4,901.0 L1165.8,903.1 L1166.2,905.2 L1166.6,907.3 L1167.0,909.4 L1167.3,911.6 L1167.7,913.7 L1168.1,915.8 L1168.5,917.9 L1168.9,920.1 L1169.3,922.2 L1169.7,924.3 L1170.1,926.4 L1170.5,928.5 L1170.9,930.6 L1171.3,932.8 L1171.7,934.9 L1172.1,937.0 L1172.5,939.1 L1172.9,941.2 L1173.3,943.4 L1173.7,945.5 L1174.2,947.6 L1174.6,949.7 L1175.0,951.8 L1175.4,953.9 L1175.9,956.0 L1176.3,958.1 L1176.7,960.3 L1177.2,962.4 L1177.6,964.5 L1178.1,966.6 L1178.5,968.7 L1179.0,970.8 L1179.4,972.9 L1179.9,975.0 L1180.4,977.1 L1180.8,979.2 L1181.3,981.3 L1181.8,983.4 L1182.3,985.5 L1182.7,987.6 L1183.2,989.7 L1183.7,991.8 L1184.2,993.8 L1184.7,995.9 L1185.3,998.0 L1185.8,1000.1 L1186.3,1002.2 L1186.8,1004.3 L1187.4,1006.3 L1187.9,1008.4 L1188.4,1010.5 L1189.0,1012.6 L1189.5,1014.6 L1190.1,1016.7 L1190.7,1018.8 L1191.2,1020.8 L1191.8,1022.9 L1192.4,1025.0 L1193.0,1027.0 L1193.6,1029.1 L1194.2,1031.1 L1194.8,1033.2 L1195.4,1035.2 L1196.1,1037.3 L1196.7,1039.3 L1197.3,1041.4 L1198.0,1043.4 L1198.6,1045.4 L1199.3,1047.5 L1200.0,1049.5 L1200.7,1051.5 L1201.3,1053.6 L1202.0,1055.6 L1202.7,1057.6 L1203.4,1059.6 L1204.2,1061.6 L1204.9,1063.6 L1205.6,1065.7 L1206.4,1067.7 L1207.1,1069.7 L1207.9,1071.7 L1208.6,1073.7 L1209.4,1075.6 L1210.2,1077.6 L1211.0,1079.6 L1211.8,1081.6 L1212.6,1083.6 L1213.4,1085.6 L1214.3,1087.5 L1215.1,1089.5 L1215.9,1091.5 L1216.8,1093.4 L1217.7,1095.4 L1218.6,1097.3 L1219.4,1099.3 L1220.3,1101.2 L1221.2,1103.2 L1222.2,1105.1 L1223.1,1107.1 L1224.0,1109.0 L1225.0,1110.9 L1225.9,1112.8 L1226.9,1114.8 L1227.9,1116.7 L1228.9,1118.6 L1229.9,1120.5 L1230.9,1122.4 L1231.9,1124.3 L1233.0,1126.2 L1234.0,1128.1 L1235.1,1130.0 L1236.2,1131.9 L1237.3,1133.7 L1238.4,1135.6 L1239.5,1137.5 L1240.6,1139.3 L1241.7,1141.2 L1242.9,1143.0 L1244.0,1144.9 L1245.2,1146.7 L1246.4,1148.5 L1247.6,1150.3 L1248.9,1152.1 L1250.1,1153.8 L1251.4,1155.6 L1252.7,1157.3 L1254.0,1159.0 L1255.3,1160.7 L1256.6,1162.4 L1258.0,1164.0 L1259.4,1165.7 L1260.8,1167.3 L1262.2,1168.8 L1263.7,1170.4 L1265.2,1171.9 L1266.6,1173.4 L1268.2,1174.9 L1269.7,1176.4 L1271.3,1177.8 L1272.8,1179.3 L1274.4,1180.7 L1276.0,1182.0 L1277.7,1183.4 L1279.3,1184.7 L1281.0,1186.1 L1282.6,1187.4 L1284.3,1188.7 L1286.0,1189.9 L1287.7,1191.2 L1289.5,1192.4 L1291.2,1193.7 L1293.0,1194.9 L1294.7,1196.1 L1296.5,1197.3 L1298.3,1198.4 L1300.1,1199.6 L1301.9,1200.7 L1303.8,1201.9 L1305.6,1203.0 L1307.4,1204.1 L1309.3,1205.2 L1311.1,1206.3 L1313.0,1207.4 L1314.8,1208.5 L1316.7,1209.6 L1318.6,1210.6 L1320.4,1211.7 L1322.3,1212.7 L1324.2,1213.8 L1326.1,1214.8 L1328.0,1215.9 L1329.9,1216.9 L1331.8,1217.9 L1333.7,1219.0 L1335.6,1220.0 L1337.5,1221.0 L1339.4,1222.0 L1341.3,1223.0 L1343.2,1224.0 L1345.1,1225.0 L1347.0,1226.0 L1348.9,1227.0 L1350.8,1228.0 L1352.7,1229.0 L1354.6,1230.0 L1356.5,1231.0 L1358.4,1231.9 L1360.4,1232.9 L1362.3,1233.9 L1364.2,1234.8 L1366.1,1235.8 L1368.1,1236.7 L1370.0,1237.7 L1371.9,1238.6 L1373.9,1239.6 L1375.8,1240.5 L1377.7,1241.5 L1379.7,1242.4 L1381.6,1243.3 L1383.5,1244.2 L1385.5,1245.2 L1387.4,1246.1 L1389.4,1247.0 L1391.3,1247.9 L1393.3,1248.8 L1395.2,1249.7 L1397.2,1250.6 L1399.1,1251.5 L1401.1,1252.4 L1403.0,1253.3 L1405.0,1254.2 L1407.0,1255.1 L1408.9,1255.9 L1410.9,1256.8 L1412.8,1257.7 L1414.8,1258.5 L1416.8,1259.4 L1418.7,1260.3 L1420.7,1261.1 L1422.7,1262.0 L1424.7,1262.8 L1426.6,1263.7 L1428.6,1264.5 L1430.6,1265.4 L1432.6,1266.2 L1434.5,1267.1 L1436.5,1267.9 L1438.5,1268.7 L1440.5,1269.5 L1442.5,1270.4 L1444.5,1271.2 L1446.5,1272.0 L1448.4,1272.8 L1450.4,1273.6 L1452.4,1274.4 L1454.4,1275.3 L1456.4,1276.1 L1458.4,1276.9 L1460.4,1277.7 L1462.4,1278.4 L1464.4,1279.2 L1466.4,1280.0 L1468.4,1280.8 L1470.4,1281.6 L1472.4,1282.4 L1474.4,1283.2 L1476.4,1283.9 L1478.4,1284.7 L1480.4,1285.5 L1482.5,1286.2 L1484.5,1287.0 L1486.5,1287.8 L1488.5,1288.5 L1490.5,1289.3 L1492.5,1290.0 L1494.5,1290.8 L1496.5,1291.5 L1498.6,1292.3 L1500.6,1293.0 L1502.6,1293.8 L1504.6,1294.5 L1506.7,1295.3 L1508.7,1296.0 L1510.7,1296.7 L1512.7,1297.4 L1514.7,1298.2 L1516.8,1298.9 L1518.8,1299.6 L1520.8,1300.3 L1522.9,1301.1 L1524.9,1301.8 L1526.9,1302.5 L1529.0,1303.2 L1531.0,1303.9 L1533.0,1304.6 L1535.1,1305.3 L1537.1,1306.0 L1539.1,1306.7 L1541.2,1307.4 L1543.2,1308.1 L1545.2,1308.8 L1547.3,1309.5 L1549.3,1310.2 L1551.4,1310.9 L1553.4,1311.6 L1555.5,1312.3 L1557.5,1313.0 L1559.5,1313.6 L1561.6,1314.3 L1563.6,1315.0 L1565.7,1315.7 L1567.7,1316.3 L1569.8,1317.0 L1571.8,1317.7 L1573.9,1318.3 L1575.9,1319.0 L1578.0,1319.7 L1580.0,1320.3 L1582.1,1321.0 L1584.1,1321.6 L1586.2,1322.3 L1588.2,1322.9 L1590.3,1323.6 L1592.3,1324.2 L1594.4,1324.9 L1596.5,1325.5 L1598.5,1326.2 L1600.6,1326.8 L1602.6,1327.4 L1604.7,1328.1 L1606.8,1328.7 L1608.8,1329.3 L1610.9,1330.0 L1612.9,1330.6 L1615.0,1331.2 L1617.1,1331.8 L1619.1,1332.4 L1621.2,1333.0 L1623.3,1333.6 L1625.3,1334.3 L1627.4,1334.9 L1629.5,1335.5 L1631.5,1336.1 L1633.6,1336.7 L1635.7,1337.3 L1637.7,1337.8 L1639.8,1338.4 L1641.9,1339.0 L1644.0,1339.6 L1646.0,1340.2 L1648.1,1340.8 L1650.2,1341.3 L1652.3,1341.9 L1654.3,1342.5 L1656.4,1343.1 L1658.5,1343.6 L1660.6,1344.2 L1662.6,1344.7 L1664.7,1345.3 L1666.8,1345.8 L1668.9,1346.4 L1671.0,1346.9 L1673.1,1347.5 L1675.1,1348.0 L1677.2,1348.6 L1679.3,1349.1 L1681.4,1349.6 L1683.5,1350.2 L1685.6,1350.7 L1687.6,1351.2 L1689.7,1351.7 L1691.8,1352.3 L1693.9,1352.8 L1696.0,1353.3 L1698.1,1353.8 L1700.2,1354.3 L1702.3,1354.8 L1704.4,1355.3 L1706.5,1355.8 L1708.5,1356.3 L1710.6,1356.8 L1712.7,1357.3 L1714.8,1357.8 L1716.9,1358.3 L1719.0,1358.7 L1721.1,1359.2 L1723.2,1359.7 L1725.3,1360.1 L1727.4,1360.6 L1729.5,1361.1 L1731.6,1361.5 L1733.7,1362.0 L1735.8,1362.4 L1737.9,1362.9 L1740.0,1363.3 L1742.1,1363.8 L1744.2,1364.2 L1746.3,1364.7 L1748.4,1365.1 L1750.5,1365.5 L1752.6,1365.9 L1754.7,1366.4 L1756.8,1366.8 L1758.9,1367.2 L1761.1,1367.6 L1763.2,1368.0 L1765.3,1368.4 L1767.4,1368.8 L1769.5,1369.2 L1771.6,1369.6 L1773.7,1370.0 L1775.8,1370.4 L1777.9,1370.8 L1780.0,1371.2 L1782.2,1371.5 L1784.3,1371.9 L1786.4,1372.3 L1788.5,1372.6 L1790.6,1373.0 L1792.7,1373.4 L1794.8,1373.7 L1797.0,1374.1 L1799.1,1374.4 L1801.2,1374.8 L1803.3,1375.1 L1805.4,1375.4 L1807.5,1375.8 L1809.7,1376.1 L1811.8,1376.4 L1813.9,1376.7 L1816.0,1377.1 L1818.1,1377.4 L1820.3,1377.7 L1822.4,1378.0 L1824.5,1378.3 L1826.6,1378.6 L1828.8,1378.9 L1830.9,1379.2 L1833.0,1379.4 L1835.1,1379.7 L1837.3,1380.0 L1839.4,1380.3 L1841.5,1380.5 L1843.6,1380.8 L1845.8,1381.1 L1847.9,1381.3 L1850.0,1381.6 L1852.2,1381.8 L1854.3,1382.1 L1856.4,1382.3 L1858.5,1382.5 L1860.7,1382.8 L1862.8,1383.0 L1864.9,1383.2 L1867.1,1383.5 L1869.2,1383.7 L1871.3,1383.9 L1873.5,1384.1 L1875.6,1384.3 L1877.7,1384.5 L1879.9,1384.7 L1882.0,1384.9 L1884.2,1385.1 L1886.3,1385.2 L1888.4,1385.4 L1890.6,1385.6 L1892.7,1385.8 L1894.8,1385.9 L1897.0,1386.1 L1899.1,1386.2 L1901.3,1386.4 L1903.4,1386.5 L1905.5,1386.7 L1907.7,1386.8 L1909.8,1386.9 L1912.0,1387.1 L1914.1,1387.2 L1916.2,1387.3 L1918.4,1387.4 L1920.5,1387.5 L1922.7,1387.6 L1924.8,1387.7 L1927.0,1387.8 L1929.1,1387.9 L1931.3,1388.0 L1933.4,1388.1 L1935.5,1388.2 L1937.7,1388.2 L1939.8,1388.3 L1942.0,1388.4 L1944.1,1388.4 L1946.3,1388.5 L1948.4,1388.5 L1950.6,1388.6 L1952.7,1388.6 L1954.9,1388.7 L1957.0,1388.7 L1959.2,1388.7 L1961.3,1388.7 L1963.5,1388.7 L1965.6,1388.8 L1967.8,1388.8 L1969.9,1388.8 L1972.1,1388.8 L1974.3,1388.7 L1976.4,1388.7 L1978.6,1388.7 L1980.7,1388.7 L1982.9,1388.7 L1985.0,1388.6 L1987.2,1388.6 L1989.3,1388.5 L1991.5,1388.5 L1993.6,1388.4 L1995.8,1388.4 L1998.0,1388.3 L2000.1,1388.3 L2002.3,1388.2 L2004.4,1388.1 L2006.6,1388.0 L2008.8,1387.9 L2010.9,1387.8 L2013.1,1387.7 L2015.2,1387.6 L2017.4,1387.5 L2019.5,1387.4 L2021.7,1387.3 L2023.9,1387.1 L2026.0,1387.0 L2028.2,1386.9 L2030.4,1386.7 L2032.5,1386.6 L2034.7,1386.4 L2036.8,1386.3 L2039.0,1386.1 L2041.2,1385.9 L2043.3,1385.8 L2045.5,1385.6 L2047.7,1385.4 L2049.8,1385.2 L2052.0,1385.0 L2054.2,1384.8 L2056.3,1384.6 L2058.5,1384.4 L2060.7,1384.2 L2062.8,1384.0 L2065.0,1383.7 L2067.2,1383.5 L2069.3,1383.3 L2071.5,1383.0 L2073.7,1382.8 L2075.8,1382.5 L2078.0,1382.2 L2080.2,1382.0 L2082.3,1381.7 L2084.5,1381.4 L2086.7,1381.1 L2088.8,1380.8 L2091.0,1380.5 L2093.2,1380.2 L2095.4,1379.9" stroke="#F14040"/>
<path d="M259.0,1403.1 L260.7,1402.6 L262.4,1402.0 L264.1,1401.5 L265.8,1400.9 L267.5,1400.4 L269.2,1399.8 L271.0,1399.3 L272.7,1398.7 L274.4,1398.2 L276.1,1397.6 L277.8,1397.1 L279.5,1396.5 L281.2,1395.9 L282.9,1395.4 L284.6,1394.8 L286.3,1394.3 L288.0,1393.7 L289.7,1393.1 L291.4,1392.6 L293.1,1392.0 L294.8,1391.4 L296.5,1390.9 L298.2,1390.3 L299.9,1389.7 L301.6,1389.2 L303.3,1388.6 L305.0,1388.0 L306.7,1387.5 L308.4,1386.9 L310.1,1386.3 L311.8,1385.7 L313.5,1385.2 L315.2,1384.6 L316.9,1384.0 L318.6,1383.4 L320.3,1382.9 L322.0,1382.3 L323.7,1381.7 L325.4,1381.1 L327.1,1380.6 L328.8,1380.0 L330.5,1379.4 L332.2,1378.8 L333.9,1378.2 L335.6,1377.7 L337.3,1377.1 L339.0,1376.5 L340.6,1375.9 L342.3,1375.3 L344.0,1374.7 L345.7,1374.2 L347.4,1373.6 L349.1,1373.0 L350.8,1372.4 L352.5,1371.8 L354.2,1371.2 L355.9,1370.6 L357.6,1370.1 L359.3,1369.5 L361.0,1368.9 L362.7,1368.3 L364.3,1367.7 L366.0,1367.1 L367.7,1366.5 L369.4,1366.0 L371.1,1365.4 L372.8,1364.8 L374.5,1364.2 L376.2,1363.6 L377.9,1363.0 L379.6,1362.4 L381.3,1361.9 L383.0,1361.3 L384.6,1360.7 L386.3,1360.1 L388.0,1359.5 L389.7,1358.9 L391.4,1358.3 L393.1,1357.8 L394.8,1357.2 L396.5,1356.6 L398.2,1356.0 L399.9,1355.4 L401.6,1354.8 L403.2,1354.2 L404.9,1353.7 L406.6,1353.1 L408.3,1352.5 L410.0,1351.9 L411.7,1351.3 L413.4,1350.7 L415.1,1350.2 L416.8,1349.6 L418.5,1349.0 L420.2,1348.4 L421.9,1347.8 L423.6,1347.3 L425.2,1346.7 L426.9,1346.1 L428.6,1345.5 L430.3,1344.9 L432.0,1344.4 L433.7,1343.8 L435.4,1343.2 L437.1,1342.6 L438.8,1342.1 L440.5,1341.5 L442.2,1340.9 L443.9,1340.3 L445.6,1339.8 L447.3,1339.2 L449.0,1338.6 L450.7,1338.1 L452.3,1337.5 L454.0,1336.9 L455.7,1336.4 L457.4,1335.8 L459.1,1335.2 L460.8,1334.7 L462.5,1334.1 L464.2,1333.5 L465.9,1333.0 L467.6,1332.4 L469.3,1331.9 L471.0,1331.3 L472.7,1330.7 L474.4,1330.2 L476.1,1329.6 L477.8,1329.1 L479.5,1328.5 L481.2,1328.0 L482.9,1327.4 L484.6,1326.9 L486.3,1326.3 L488.0,1325.8 L489.7,1325.2 L491.4,1324.7 L493.1,1324.2 L494.8,1323.6 L496.5,1323.1 L498.2,1322.5 L499.9,1322.0 L501.6,1321.5 L503.4,1320.9 L505.1,1320.4 L506.8,1319.9 L508.5,1319.3 L510.2,1318.8 L511.9,1318.3 L513.6,1317.7 L515.3,1317.2 L517.0,1316.7 L518.7,1316.2 L520.4,1315.6 L522.1,1315.1 L523.9,1314.6 L525.6,1314.1 L527.3,1313.6 L529.0,1313.1 L530.7,1312.6 L532.4,1312.0 L534.1,1311.5 L535.9,1311.0 L537.6,1310.5 L539.3,1310.0 L541.0,1309.5 L542.7,1309.0 L544.4,1308.5 L546.2,1308.0 L547.9,1307.5 L549.6,1307.0 L551.3,1306.6 L553.0,1306.1 L554.8,1305.6 L556.5,1305.1 L558.2,1304.6 L559.9,1304.1 L561.7,1303.7 L563.4,1303.2 L565.1,1302.7 L566.8,1302.2 L568.6,1301.8 L570.3,1301.3 L572.0,1300.8 L573.8,1300.4 L575.5,1299.9 L577.2,1299.4 L578.9,1299.0 L580.7,1298.5 L582.4,1298.1 L584.1,1297.6 L585.9,1297.2 L587.6,1296.7 L589.4,1296.3 L591.1,1295.8 L592.8,1295.4 L594.6,1295.0 L596.3,1294.5 L598.0,1294.1 L599.8,1293.7 L601.5,1293.2 L603.3,1292.8 L605.0,1292.4 L606.8,1292.0 L608.5,1291.6 L610.2,1291.1 L612.0,1290.7 L613.7,1290.3 L615.5,1289.9 L617.2,1289.5 L619.0,1289.1 L620.7,1288.7 L622.5,1288.3 L624.2,1287.9 L626.0,1287.5 L627.7,1287.1 L629.5,1286.7 L631.3,1286.3 L633.0,1285.9 L634.8,1285.5 L636.5,1285.1 L638.3,1284.7 L640.0,1284.3 L641.8,1283.9 L643.5,1283.5 L645.3,1283.1 L647.0,1282.7 L648.8,1282.3 L650.5,1282.0 L652.3,1281.6 L654.0,1281.2 L655.8,1280.8 L657.5,1280.4 L659.3,1280.0 L661.0,1279.5 L662.8,1279.1 L664.5,1278.7 L666.3,1278.3 L668.0,1277.9 L669.8,1277.5 L671.5,1277.1 L673.3,1276.7 L675.0,1276.2 L676.7,1275.8 L678.5,1275.4 L680.2,1275.0 L682.0,1274.5 L683.7,1274.1 L685.4,1273.6 L687.2,1273.2 L688.9,1272.8 L690.6,1272.3 L692.4,1271.8 L694.1,1271.4 L695.8,1270.9 L697.5,1270.5 L699.3,1270.0 L701.0,1269.5 L702.7,1269.0 L704.4,1268.5 L706.1,1268.0 L707.8,1267.5 L709.6,1267.0 L711.3,1266.5 L713.0,1266.0 L714.7,1265.5 L716.4,1265.0 L718.1,1264.4 L719.8,1263.9 L721.5,1263.3 L723.2,1262.8 L724.9,1262.2 L726.5,1261.7 L728.2,1261.1 L729.9,1260.5 L731.6,1259.9 L733.3,1259.3 L734.9,1258.7 L736.6,1258.1 L738.3,1257.5 L740.0,1256.8 L741.6,1256.2 L743.3,1255.6 L744.9,1254.9 L746.6,1254.3 L748.2,1253.6 L749.9,1252.9 L751.5,1252.2 L753.2,1251.6 L754.8,1250.9 L756.5,1250.2 L758.1,1249.5 L759.8,1248.8 L761.4,1248.1 L763.0,1247.4 L764.7,1246.6 L766.3,1245.9 L767.9,1245.2 L769.6,1244.5 L771.2,1243.8 L772.8,1243.0 L774.5,1242.3 L776.1,1241.6 L777.8,1240.8 L779.4,1240.1 L781.0,1239.4 L782.7,1238.6 L784.3,1237.9 L785.9,1237.2 L787.6,1236.4 L789.2,1235.7 L790.8,1235.0 L792.5,1234.3 L794.1,1233.5 L795.8,1232.8 L797.4,1232.1 L799.1,1231.4 L800.7,1230.7 L802.4,1230.0 L804.0,1229.3 L805.7,1228.6 L807.3,1227.9 L809.0,1227.2 L810.7,1226.5 L812.3,1225.8 L814.0,1225.2 L815.7,1224.5 L817.4,1223.8 L819.0,1223.2 L820.7,1222.6 L822.4,1221.9 L824.1,1221.3 L825.8,1220.7 L827.5,1220.1 L829.2,1219.5 L830.9,1218.9 L832.6,1218.3 L834.4,1217.7 L836.1,1217.2 L837.8,1216.6 L839.6,1216.1 L841.3,1215.5 L843.0,1215.0 L844.8,1214.5 L846.5,1214.0 L848.3,1213.5 L850.0,1213.0 L851.8,1212.5 L853.5,1212.0 L855.3,1211.5 L857.0,1211.0 L858.8,1210.5 L860.5,1210.0 L862.3,1209.5 L864.0,1209.0 L865.8,1208.5 L867.5,1208.0 L869.2,1207.4 L870.9,1206.9 L872.6,1206.3 L874.3,1205.8 L876.0,1205.2 L877.7,1204.6 L879.4,1204.0 L881.0,1203.4 L882.7,1202.7 L884.3,1202.1 L885.9,1201.4 L887.6,1200.7 L889.2,1200.0 L890.7,1199.2 L892.3,1198.4 L893.9,1197.6 L895.4,1196.8 L896.9,1196.0 L898.4,1195.1 L899.9,1194.2 L901.4,1193.2 L902.8,1192.2 L904.2,1191.2 L905.7,1190.2 L907.0,1189.1 L908.4,1188.0 L909.8,1186.9 L911.1,1185.8 L912.4,1184.6 L913.7,1183.4 L915.0,1182.1 L916.2,1180.9 L917.5,1179.6 L918.7,1178.3 L919.9,1177.0 L921.1,1175.7 L922.3,1174.3 L923.5,1173.0 L924.6,1171.6 L925.8,1170.2 L926.9,1168.7 L928.0,1167.3 L929.1,1165.8 L930.2,1164.4 L931.2,1162.9 L932.3,1161.4 L933.3,1159.9 L934.3,1158.4 L935.3,1156.9 L936.3,1155.4 L937.3,1153.9 L938.3,1152.3 L939.2,1150.8 L940.2,1149.2 L941.1,1147.7 L942.0,1146.1 L943.0,1144.6 L943.9,1143.0 L944.7,1141.4 L945.6,1139.9 L946.5,1138.3 L947.3,1136.7 L948.2,1135.1 L949.0,1133.5 L949.8,1132.0 L950.7,1130.4 L951.5,1128.8 L952.2,1127.2 L953.0,1125.5 L953.8,1123.9 L954.6,1122.3 L955.3,1120.7 L956.0,1119.1 L956.8,1117.5 L957.5,1115.8 L958.2,1114.2 L958.9,1112.6 L959.6,1110.9 L960.3,1109.3 L961.0,1107.6 L961.6,1106.0 L962.3,1104.3 L963.0,1102.7 L963.6,1101.0 L964.2,1099.3 L964.8,1097.7 L965.5,1096.0 L966.1,1094.3 L966.7,1092.7 L967.3,1091.0 L967.9,1089.3 L968.4,1087.6 L969.0,1085.9 L969.6,1084.2 L970.1,1082.5 L970.7,1080.9 L971.2,1079.2 L971.7,1077.5 L972.3,1075.8 L972.8,1074.0 L973.3,1072.3 L973.8,1070.6 L974.3,1068.9 L974.8,1067.2 L975.3,1065.5 L975.8,1063.8 L976.2,1062.1 L976.7,1060.3 L977.2,1058.6 L977.6,1056.9 L978.1,1055.1 L978.5,1053.4 L979.0,1051.7 L979.4,1050.0 L979.9,1048.2 L980.3,1046.5 L980.7,1044.7 L981.1,1043.0 L981.5,1041.3 L981.9,1039.5 L982.3,1037.8 L982.7,1036.0 L983.1,1034.3 L983.5,1032.5 L983.9,1030.8 L984.3,1029.0 L984.7,1027.3 L985.1,1025.5 L985.4,1023.7 L985.8,1022.0 L986.2,1020.2 L986.5,1018.5 L986.9,1016.7 L987.3,1015.0 L987.6,1013.2 L988.0,1011.4 L988.3,1009.7 L988.7,1007.9 L989.0,1006.1 L989.4,1004.4 L989.7,1002.6 L990.0,1000.8 L990.4,999.1 L990.7,997.3 L991.1,995.5 L991.4,993.8 L991.7,992.0 L992.0,990.2 L992.4,988.5 L992.7,986.7 L993.0,984.9 L993.4,983.1 L993.7,981.4 L994.0,979.6 L994.3,977.8 L994.6,976.1 L995.0,974.3 L995.3,972.5 L995.6,970.8 L995.9,969.0 L996.3,967.2 L996.6,965.4 L996.9,963.7 L997.2,961.9 L997.6,960.1 L997.9,958.4 L998.2,956.6 L998.5,954.8 L998.9,953.1 L999.2,951.3 L999.5,949.6 L999.8,947.8 L1000.2,946.0 L1000.5,944.3 L1000.8,942.5 L1001.2,940.7 L1001.5,939.0 L1001.8,937.2 L1002.1,935.4 L1002.5,933.7 L1002.8,931.9 L1003.1,930.2 L1003.5,928.4 L1003.8,926.6 L1004.1,924.9 L1004.5,923.1 L1004.8,921.4 L1005.1,919.6 L1005.5,917.8 L1005.8,916.1 L1006.1,914.3 L1006.5,912.6 L1006.8,910.8 L1007.2,909.0 L1007.5,907.3 L1007.8,905.5 L1008.2,903.8 L1008.5,902.0 L1008.9,900.3 L1009.2,898.5 L1009.5,896.7 L1009.9,895.0 L1010.2,893.2 L1010.6,891.5 L1010.9,889.7 L1011.3,888.0 L1011.6,886.2 L1011.9,884.5 L1012.3,882.7 L1012.6,881.0 L1013.0,879.2 L1013.3,877.4 L1013.7,875.7 L1014.0,873.9 L1014.4,872.2 L1014.7,870.4 L1015.1,868.7 L1015.4,866.9 L1015.8,865.2 L1016.1,863.4 L1016.5,861.7 L1016.9,859.9 L1017.2,858.2 L1017.6,856.4 L1017.9,854.7 L1018.3,852.9 L1018.6,851.2 L1019.0,849.4 L1019.4,847.7 L1019.7,845.9 L1020.1,844.2 L1020.4,842.4 L1020.8,840.7 L1021.2,838.9 L1021.5,837.2 L1021.9,835.4 L1022.3,833.7 L1022.6,831.9 L1023.0,830.2 L1023.3,828.4 L1023.7,826.7 L1024.1,824.9 L1024.5,823.2 L1024.8,821.4 L1025.2,819.7 L1025.6,817.9 L1025.9,816.2 L1026.3,814.4 L1026.7,812.7 L1027.1,810.9 L1027.4,809.2 L1027.8,807.4 L1028.2,805.7 L1028.6,803.9 L1028.9,802.2 L1029.3,800.4 L1029.7,798.7 L1030.1,796.9 L1030.5,795.2 L1030.9,793.4 L1031.2,791.7 L1031.6,789.9 L1032.0,788.2 L1032.4,786.4 L1032.8,784.7 L1033.2,782.9 L1033.6,781.2 L1034.0,779.4 L1034.3,777.7 L1034.7,775.9 L1035.1,774.2 L1035.5,772.4 L1035.9,770.7 L1036.3,768.9 L1036.7,767.2 L1037.1,765.4 L1037.5,763.7 L1037.9,761.9 L1038.3,760.2 L1038.7,758.4 L1039.1,756.7 L1039.5,754.9 L1039.9,753.2 L1040.3,751.4 L1040.7,749.7 L1041.1,747.9 L1041.4,746.2 L1041.8,744.5 L1042.2,742.7 L1042.6,741.0 L1043.0,739.2 L1043.4,737.5 L1043.8,735.7 L1044.2,734.0 L1044.6,732.2 L1045.0,730.5 L1045.4,728.7 L1045.8,727.0 L1046.2,725.2 L1046.6,723.5 L1046.9,721.7 L1047.3,720.0 L1047.7,718.2 L1048.1,716.5 L1048.5,714.7 L1048.9,713.0 L1049.3,711.2 L1049.6,709.5 L1050.0,707.7 L1050.4,706.0 L1050.8,704.2 L1051.2,702.5 L1051.5,700.8 L1051.9,699.0 L1052.3,697.3 L1052.7,695.5 L1053.1,693.8 L1053.5,692.0 L1054.0,690.3 L1054.5,688.6 L1055.0,686.9 L1055.7,685.2 L1056.3,683.5 L1057.1,681.8 L1057.9,680.1 L1058.9,678.5 L1059.9,676.9 L1061.0,675.3 L1062.2,673.8 L1063.5,672.4 L1064.8,671.1 L1066.2,670.0 L1067.6,669.1 L1069.0,668.4 L1070.5,667.9 L1071.9,667.7 L1073.4,667.8 L1074.9,668.2 L1076.3,668.8 L1077.7,669.6 L1079.1,670.6 L1080.4,671.8 L1081.7,673.2 L1082.9,674.6 L1084.1,676.2 L1085.2,677.8 L1086.2,679.4 L1087.0,681.0 L1087.9,682.7 L1088.6,684.4 L1089.3,686.1 L1089.9,687.8 L1090.5,689.5 L1091.0,691.2 L1091.5,692.9 L1092.0,694.6 L1092.5,696.3 L1093.0,698.0 L1093.6,699.7 L1094.1,701.4 L1094.6,703.1 L1095.2,704.8 L1095.8,706.5 L1096.4,708.1 L1097.0,709.8 L1097.5,711.5 L1098.1,713.2 L1098.7,714.9 L1099.2,716.6 L1099.8,718.3 L1100.3,720.0 L1100.9,721.7 L1101.4,723.4 L1102.0,725.1 L1102.5,726.8 L1103.0,728.5 L1103.5,730.2 L1104.0,731.9 L1104.6,733.6 L1105.1,735.4 L1105.6,737.1 L1106.1,738.8 L1106.6,740.5 L1107.1,742.2 L1107.6,744.0 L1108.0,745.7 L1108.5,747.4 L1109.0,749.1 L1109.5,750.9 L1109.9,752.6 L1110.4,754.3 L1110.9,756.1 L1111.3,757.8 L1111.8,759.6 L1112.2,761.3 L1112.7,763.0 L1113.1,764.8 L1113.6,766.5 L1114.0,768.3 L1114.4,770.0 L1114.9,771.7 L1115.3,773.5 L1115.7,775.2 L1116.2,777.0 L1116.6,778.7 L1117.0,780.5 L1117.4,782.2 L1117.8,784.0 L1118.3,785.7 L1118.7,787.4 L1119.1,789.2 L1119.5,790.9 L1119.9,792.7 L1120.3,794.4 L1120.7,796.2 L1121.1,797.9 L1121.5,799.7 L1121.9,801.4 L1122.3,803.2 L1122.7,804.9 L1123.1,806.7 L1123.5,808.4 L1123.8,810.2 L1124.2,811.9 L1124.6,813.7 L1125.0,815.4 L1125.4,817.2 L1125.8,818.9 L1126.1,820.7 L1126.5,822.4 L1126.9,824.2 L1127.2,825.9 L1127.6,827.7 L1128.0,829.4 L1128.4,831.2 L1128.7,832.9 L1129.1,834.7 L1129.5,836.5 L1129.8,838.2 L1130.2,840.0 L1130.5,841.7 L1130.9,843.5 L1131.3,845.2 L1131.6,847.0 L1132.0,848.7 L1132.3,850.5 L1132.7,852.2 L1133.0,854.0 L1133.4,855.7 L1133.7,857.5 L1134.1,859.2 L1134.4,861.0 L1134.8,862.8 L1135.2,864.5 L1135.5,866.3 L1135.8,868.0 L1136.2,869.8 L1136.5,871.5 L1136.9,873.3 L1137.2,875.0 L1137.6,876.8 L1137.9,878.5 L1138.3,880.3 L1138.6,882.1 L1139.0,883.8 L1139.3,885.6 L1139.7,887.3 L1140.0,889.1 L1140.3,890.8 L1140.7,892.6 L1141.0,894.3 L1141.4,896.1 L1141.7,897.9 L1142.1,899.6 L1142.4,901.4 L1142.8,903.1 L1143.1,904.9 L1143.5,906.6 L1143.8,908.4 L1144.1,910.1 L1144.5,911.9 L1144.8,913.7 L1145.2,915.4 L1145.5,917.2 L1145.9,918.9 L1146.2,920.7 L1146.6,922.4 L1146.9,924.2 L1147.3,925.9 L1147.6,927.7 L1148.0,929.5 L1148.3,931.2 L1148.7,933.0 L1149.1,934.7 L1149.4,936.5 L1149.8,938.2 L1150.1,940.0 L1150.5,941.7 L1150.8,943.5 L1151.2,945.2 L1151.6,947.0 L1151.9,948.8 L1152.3,950.5 L1152.7,952.3 L1153.0,954.0 L1153.4,955.8 L1153.8,957.5 L1154.1,959.3 L1154.5,961.0 L1154.9,962.8 L1155.2,964.5 L1155.6,966.3 L1156.0,968.0 L1156.4,969.8 L1156.8,971.5 L1157.1,973.3 L1157.5,975.0 L1157.9,976.8 L1158.3,978.6 L1158.7,980.3 L1159.1,982.1 L1159.5,983.8 L1159.9,985.6 L1160.3,987.3 L1160.7,989.0 L1161.1,990.8 L1161.5,992.5 L1161.9,994.3 L1162.3,996.0 L1162.7,997.8 L1163.2,999.5 L1163.6,1001.3 L1164.0,1003.0 L1164.4,1004.7 L1164.9,1006.5 L1165.3,1008.2 L1165.7,1010.0 L1166.2,1011.7 L1166.6,1013.4 L1167.1,1015.2 L1167.5,1016.9 L1168.0,1018.6 L1168.4,1020.4 L1168.9,1022.1 L1169.4,1023.8 L1169.8,1025.6 L1170.3,1027.3 L1170.8,1029.0 L1171.3,1030.7 L1171.8,1032.4 L1172.3,1034.2 L1172.8,1035.9 L1173.3,1037.6 L1173.8,1039.3 L1174.3,1041.0 L1174.8,1042.7 L1175.3,1044.4 L1175.8,1046.2 L1176.4,1047.9 L1176.9,1049.6 L1177.4,1051.3 L1178.0,1053.0 L1178.5,1054.7 L1179.1,1056.4 L1179.7,1058.1 L1180.2,1059.7 L1180.8,1061.4 L1181.4,1063.1 L1182.0,1064.8 L1182.6,1066.5 L1183.2,1068.2 L1183.8,1069.9 L1184.4,1071.5 L1185.0,1073.2 L1185.6,1074.9 L1186.3,1076.5 L1186.9,1078.2 L1187.5,1079.9 L1188.2,1081.5 L1188.8,1083.2 L1189.5,1084.8 L1190.2,1086.5 L1190.9,1088.2 L1191.5,1089.8 L1192.2,1091.4 L1192.9,1093.1 L1193.6,1094.7 L1194.3,1096.4 L1195.1,1098.0 L1195.8,1099.6 L1196.5,1101.3 L1197.3,1102.9 L1198.0,1104.5 L1198.8,1106.1 L1199.5,1107.7 L1200.3,1109.3 L1201.1,1111.0 L1201.9,1112.6 L1202.7,1114.2 L1203.5,1115.8 L1204.3,1117.4 L1205.1,1118.9 L1206.0,1120.5 L1206.8,1122.1 L1207.6,1123.7 L1208.5,1125.3 L1209.4,1126.8 L1210.2,1128.4 L1211.1,1130.0 L1212.0,1131.5 L1212.9,1133.1 L1213.8,1134.6 L1214.7,1136.2 L1215.7,1137.7 L1216.6,1139.3 L1217.5,1140.8 L1218.5,1142.3 L1219.4,1143.8 L1220.4,1145.3 L1221.4,1146.8 L1222.4,1148.3 L1223.4,1149.8 L1224.4,1151.3 L1225.4,1152.8 L1226.4,1154.3 L1227.4,1155.8 L1228.5,1157.2 L1229.5,1158.7 L1230.6,1160.1 L1231.6,1161.6 L1232.7,1163.0 L1233.8,1164.4 L1234.9,1165.8 L1236.0,1167.2 L1237.1,1168.7 L1238.2,1170.1 L1239.3,1171.4 L1240.5,1172.8 L1241.6,1174.2 L1242.8,1175.6 L1243.9,1176.9 L1245.1,1178.3 L1246.3,1179.6 L1247.5,1180.9 L1248.7,1182.2 L1249.9,1183.6 L1251.1,1184.9 L1252.3,1186.1 L1253.6,1187.4 L1254.8,1188.7 L1256.1,1190.0 L1257.3,1191.2 L1258.6,1192.5 L1259.9,1193.7 L1261.2,1194.9 L1262.5,1196.1 L1263.8,1197.3 L1265.1,1198.5 L1266.4,1199.7 L1267.8,1200.9 L1269.1,1202.0 L1270.5,1203.2 L1271.8,1204.3 L1273.2,1205.5 L1274.6,1206.6 L1276.0,1207.7 L1277.4,1208.8 L1278.8,1209.8 L1280.3,1210.9 L1281.7,1212.0 L1283.1,1213.0 L1284.6,1214.0 L1286.0,1215.1 L1287.5,1216.1 L1289.0,1217.1 L1290.5,1218.1 L1292.0,1219.0 L1293.5,1220.0 L1295.0,1220.9 L1296.5,1221.9 L1298.1,1222.8 L1299.6,1223.7 L1301.2,1224.7 L1302.7,1225.6 L1304.3,1226.5 L1305.8,1227.3 L1307.4,1228.2 L1309.0,1229.1 L1310.6,1230.0 L1312.1,1230.8 L1313.7,1231.7 L1315.3,1232.5 L1316.9,1233.3 L1318.5,1234.1 L1320.1,1235.0 L1321.8,1235.8 L1323.4,1236.6 L1325.0,1237.4 L1326.6,1238.2 L1328.2,1239.0 L1329.9,1239.8 L1331.5,1240.5 L1333.1,1241.3 L1334.8,1242.1 L1336.4,1242.9 L1338.0,1243.6 L1339.7,1244.4 L1341.3,1245.2 L1343.0,1245.9 L1344.6,1246.7 L1346.2,1247.4 L1347.9,1248.2 L1349.5,1248.9 L1351.2,1249.7 L1352.8,1250.4 L1354.5,1251.1 L1356.1,1251.9 L1357.7,1252.6 L1359.4,1253.3 L1361.0,1254.1 L1362.6,1254.8 L1364.3,1255.5 L1365.9,1256.3 L1367.6,1257.0 L1369.2,1257.7 L1370.8,1258.5 L1372.5,1259.2 L1374.1,1259.9 L1375.8,1260.6 L1377.4,1261.3 L1379.0,1262.0 L1380.7,1262.8 L1382.3,1263.5 L1383.9,1264.2 L1385.6,1264.9 L1387.2,1265.6 L1388.9,1266.3 L1390.5,1267.0 L1392.1,1267.7 L1393.8,1268.4 L1395.4,1269.1 L1397.1,1269.8 L1398.7,1270.5 L1400.3,1271.2 L1402.0,1271.9 L1403.6,1272.6 L1405.3,1273.3 L1406.9,1274.0 L1408.5,1274.7 L1410.2,1275.3 L1411.8,1276.0 L1413.5,1276.7 L1415.1,1277.4 L1416.8,1278.1 L1418.4,1278.7 L1420.1,1279.4 L1421.7,1280.1 L1423.4,1280.8 L1425.0,1281.4 L1426.7,1282.1 L1428.3,1282.8 L1430.0,1283.5 L1431.6,1284.1 L1433.3,1284.8 L1434.9,1285.5 L1436.6,1286.1 L1438.2,1286.8 L1439.9,1287.4 L1441.5,1288.1 L1443.2,1288.8 L1444.8,1289.4 L1446.5,1290.1 L1448.2,1290.7 L1449.8,1291.4 L1451.5,1292.0 L1453.1,1292.7 L1454.8,1293.3 L1456.5,1294.0 L1458.1,1294.6 L1459.8,1295.3 L1461.5,1295.9 L1463.1,1296.5 L1464.8,1297.2 L1466.5,1297.8 L1468.1,1298.5 L1469.8,1299.1 L1471.5,1299.7 L1473.1,1300.4 L1474.8,1301.0 L1476.5,1301.6 L1478.2,1302.2 L1479.8,1302.9 L1481.5,1303.5 L1483.2,1304.1 L1484.9,1304.7 L1486.6,1305.4 L1488.2,1306.0 L1489.9,1306.6 L1491.6,1307.2 L1493.3,1307.8 L1495.0,1308.4 L1496.6,1309.1 L1498.3,1309.7 L1500.0,1310.3 L1501.7,1310.9 L1503.4,1311.5 L1505.1,1312.1 L1506.8,1312.7 L1508.4,1313.3 L1510.1,1313.9 L1511.8,1314.5 L1513.5,1315.1 L1515.2,1315.7 L1516.9,1316.3 L1518.6,1316.9 L1520.3,1317.4 L1522.0,1318.0 L1523.7,1318.6 L1525.4,1319.2 L1527.1,1319.8 L1528.8,1320.4 L1530.5,1320.9 L1532.2,1321.5 L1533.9,1322.1 L1535.6,1322.7 L1537.3,1323.2 L1539.0,1323.8 L1540.7,1324.4 L1542.4,1324.9 L1544.1,1325.5 L1545.8,1326.1 L1547.5,1326.6 L1549.2,1327.2 L1550.9,1327.7 L1552.6,1328.3 L1554.3,1328.9 L1556.0,1329.4 L1557.7,1330.0 L1559.5,1330.5 L1561.2,1331.0 L1562.9,1331.6 L1564.6,1332.1 L1566.3,1332.7 L1568.0,1333.2 L1569.7,1333.8 L1571.4,1334.3 L1573.2,1334.8 L1574.9,1335.4 L1576.6,1335.9 L1578.3,1336.4 L1580.0,1336.9 L1581.7,1337.5 L1583.5,1338.0 L1585.2,1338.5 L1586.9,1339.0 L1588.6,1339.5 L1590.3,1340.1 L1592.1,1340.6 L1593.8,1341.1 L1595.5,1341.6 L1597.2,1342.1 L1599.0,1342.6 L1600.7,1343.1 L1602.4,1343.6 L1604.1,1344.1 L1605.9,1344.6 L1607.6,1345.1 L1609.3,1345.6 L1611.0,1346.1 L1612.8,1346.6 L1614.5,1347.0 L1616.2,1347.5 L1618.0,1348.0 L1619.7,1348.5 L1621.4,1349.0 L1623.2,1349.4 L1624.9,1349.9 L1626.6,1350.4 L1628.4,1350.9 L1630.1,1351.3 L1631.8,1351.8 L1633.6,1352.2 L1635.3,1352.7 L1637.0,1353.2 L1638.8,1353.6 L1640.5,1354.1 L1642.2,1354.5 L1644.0,1355.0 L1645.7,1355.4 L1647.5,1355.9 L1649.2,1356.3 L1650.9,1356.8 L1652.7,1357.2 L1654.4,1357.6 L1656.2,1358.1 L1657.9,1358.5 L1659.6,1358.9 L1661.4,1359.4 L1663.1,1359.8 L1664.9,1360.2 L1666.6,1360.6 L1668.4,1361.0 L1670.1,1361.5 L1671.8,1361.9 L1673.6,1362.3 L1675.3,1362.7 L1677.1,1363.1 L1678.8,1363.5 L1680.6,1363.9 L1682.3,1364.3 L1684.1,1364.7 L1685.8,1365.1 L1687.6,1365.5 L1689.3,1365.9 L1691.1,1366.3 L1692.8,1366.7 L1694.6,1367.1 L1696.3,1367.4 L1698.1,1367.8 L1699.8,1368.2 L1701.6,1368.6 L1703.3,1368.9 L1705.1,1369.3 L1706.8,1369.7 L1708.6,1370.0 L1710.3,1370.4 L1712.1,1370.8 L1713.8,1371.1 L1715.6,1371.5 L1717.4,1371.8 L1719.1,1372.2 L1720.9,1372.5 L1722.6,1372.9 L1724.4,1373.2 L1726.1,1373.6 L1727.9,1373.9 L1729.7,1374.2 L1731.4,1374.6 L1733.2,1374.9 L1734.9,1375.2 L1736.7,1375.6 L1738.5,1375.9 L1740.2,1376.2 L1742.0,1376.5 L1743.7,1376.8 L1745.5,1377.2 L1747.3,1377.5 L1749.0,1377.8 L1750.8,1378.1 L1752.5,1378.4 L1754.3,1378.7 L1756.1,1379.0 L1757.8,1379.3 L1759.6,1379.6 L1761.4,1379.9 L1763.1,1380.2 L1764.9,1380.5 L1766.7,1380.7 L1768.4,1381.0 L1770.2,1381.3 L1772.0,1381.6 L1773.7,1381.8 L1775.5,1382.1 L1777.3,1382.4 L1779.0,1382.7 L1780.8,1382.9 L1782.6,1383.2 L1784.3,1383.4 L1786.1,1383.7 L1787.9,1384.0 L1789.6,1384.2 L1791.4,1384.5 L1793.2,1384.7 L1795.0,1384.9 L1796.7,1385.2 L1798.5,1385.4 L1800.3,1385.7 L1802.0,1385.9 L1803.8,1386.1 L1805.6,1386.3 L1807.4,1386.6 L1809.1,1386.8 L1810.9,1387.0 L1812.7,1387.2 L1814.4,1387.4 L1816.2,1387.7 L1818.0,1387.9 L1819.8,1388.1 L1821.5,1388.3 L1823.3,1388.5 L1825.1,1388.7 L1826.9,1388.9 L1828.6,1389.1 L1830.4,1389.3 L1832.2,1389.4 L1834.0,1389.6 L1835.8,1389.8 L1837.5,1390.0 L1839.3,1390.2 L1841.1,1390.3 L1842.9,1390.5 L1844.6,1390.7 L1846.4,1390.9 L1848.2,1391.0 L1850.0,1391.2 L1851.8,1391.3 L1853.5,1391.5 L1855.3,1391.6 L1857.1,1391.8 L1858.9,1391.9 L1860.7,1392.1 L1862.4,1392.2 L1864.2,1392.4 L1866.0,1392.5 L1867.8,1392.6 L1869.6,1392.8 L1871.3,1392.9 L1873.1,1393.0 L1874.9,1393.1 L1876.7,1393.3 L1878.5,1393.4 L1880.3,1393.5 L1882.0,1393.6 L1883.8,1393.7 L1885.6,1393.8 L1887.4,1393.9 L1889.2,1394.0 L1891.0,1394.1 L1892.7,1394.2 L1894.5,1394.3 L1896.3,1394.4 L1898.1,1394.5 L1899.9,1394.6 L1901.7,1394.6 L1903.4,1394.7 L1905.2,1394.8 L1907.0,1394.9 L1908.8,1394.9 L1910.6,1395.0 L1912.4,1395.0 L1914.2,1395.1 L1916.0,1395.2 L1917.7,1395.2 L1919.5,1395.3 L1921.3,1395.3 L1923.1,1395.4 L1924.9,1395.4 L1926.7,1395.4 L1928.5,1395.5 L1930.2,1395.5 L1932.0,1395.5 L1933.8,1395.6 L1935.6,1395.6 L1937.4,1395.6 L1939.2,1395.6 L1941.0,1395.6 L1942.8,1395.7 L1944.6,1395.7 L1946.3,1395.7 L1948.1,1395.7 L1949.9,1395.7 L1951.7,1395.7 L1953.5,1395.7 L1955.3,1395.7 L1957.1,1395.6 L1958.9,1395.6 L1960.7,1395.6 L1962.5,1395.6 L1964.2,1395.6 L1966.0,1395.5 L1967.8,1395.5 L1969.6,1395.5 L1971.4,1395.4 L1973.2,1395.4 L1975.0,1395.4 L1976.8,1395.3 L1978.6,1395.3 L1980.4,1395.2 L1982.2,1395.2 L1983.9,1395.1 L1985.7,1395.0 L1987.5,1395.0 L1989.3,1394.9 L1991.1,1394.8 L1992.9,1394.8 L1994.7,1394.7 L1996.5,1394.6 L1998.3,1394.5 L2000.1,1394.4 L2001.9,1394.4 L2003.7,1394.3 L2005.5,1394.2 L2007.2,1394.1 L2009.0,1394.0 L2010.8,1393.9 L2012.6,1393.8 L2014.4,1393.7 L2016.2,1393.5 L2018.0,1393.4 L2019.8,1393.3 L2021.6,1393.2 L2023.4,1393.1 L2025.2,1392.9 L2027.0,1392.8 L2028.8,1392.7 L2030.6,1392.5 L2032.4,1392.4 L2034.1,1392.2 L2035.9,1392.1 L2037.7,1391.9 L2039.5,1391.8 L2041.3,1391.6 L2043.1,1391.4 L2044.9,1391.3 L2046.7,1391.1 L2048.5,1390.9 L2050.3,1390.8 L2052.1,1390.6 L2053.9,1390.4 L2055.7,1390.2 L2057.5,1390.0 L2059.3,1389.8 L2061.1,1389.7 L2062.8,1389.5 L2064.6,1389.3 L2066.4,1389.1 L2068.2,1388.8 L2070.0,1388.6 L2071.8,1388.4 L2073.6,1388.2 L2075.4,1388.0 L2077.2,1387.8 L2079.0,1387.5 L2080.8,1387.3 L2082.6,1387.1 L2084.4,1386.8 L2086.2,1386.6 L2088.0,1386.3 L2089.8,1386.1 L2091.6,1385.8 L2093.4,1385.6 L2095.1,1385.3" stroke="#1A6FDF"/>
<path d="M258.9,1409.1 L260.4,1408.7 L261.8,1408.3 L263.2,1407.9 L264.6,1407.5 L266.0,1407.1 L267.4,1406.7 L268.9,1406.3 L270.3,1405.9 L271.7,1405.5 L273.1,1405.1 L274.5,1404.6 L275.9,1404.2 L277.3,1403.8 L278.8,1403.4 L280.2,1403.0 L281.6,1402.6 L283.0,1402.2 L284.4,1401.8 L285.8,1401.3 L287.2,1400.9 L288.6,1400.5 L290.0,1400.1 L291.4,1399.7 L292.9,1399.3 L294.3,1398.8 L295.7,1398.4 L297.1,1398.0 L298.5,1397.6 L299.9,1397.2 L301.3,1396.7 L302.7,1396.3 L304.1,1395.9 L305.5,1395.5 L306.9,1395.1 L308.3,1394.6 L309.7,1394.2 L311.2,1393.8 L312.6,1393.4 L314.0,1392.9 L315.4,1392.5 L316.8,1392.1 L318.2,1391.6 L319.6,1391.2 L321.0,1390.8 L322.4,1390.4 L323.8,1389.9 L325.2,1389.5 L326.6,1389.1 L328.0,1388.6 L329.4,1388.2 L330.8,1387.8 L332.2,1387.3 L333.6,1386.9 L335.0,1386.5 L336.4,1386.1 L337.8,1385.6 L339.2,1385.2 L340.6,1384.8 L342.0,1384.3 L343.4,1383.9 L344.8,1383.5 L346.2,1383.0 L347.6,1382.6 L349.0,1382.2 L350.4,1381.7 L351.8,1381.3 L353.2,1380.9 L354.6,1380.4 L356.0,1380.0 L357.4,1379.6 L358.8,1379.1 L360.2,1378.7 L361.6,1378.2 L363.0,1377.8 L364.4,1377.4 L365.8,1376.9 L367.2,1376.5 L368.6,1376.1 L370.0,1375.6 L371.4,1375.2 L372.8,1374.8 L374.2,1374.3 L375.6,1373.9 L377.0,1373.5 L378.4,1373.0 L379.8,1372.6 L381.2,1372.2 L382.6,1371.7 L384.0,1371.3 L385.4,1370.9 L386.8,1370.4 L388.2,1370.0 L389.6,1369.6 L391.0,1369.1 L392.4,1368.7 L393.8,1368.3 L395.2,1367.8 L396.6,1367.4 L398.0,1367.0 L399.4,1366.6 L400.8,1366.1 L402.2,1365.7 L403.6,1365.3 L405.0,1364.8 L406.4,1364.4 L407.8,1364.0 L409.2,1363.6 L410.6,1363.1 L412.0,1362.7 L413.4,1362.3 L414.8,1361.8 L416.2,1361.4 L417.6,1361.0 L419.0,1360.6 L420.4,1360.1 L421.8,1359.7 L423.2,1359.3 L424.6,1358.9 L426.0,1358.5 L427.4,1358.0 L428.8,1357.6 L430.2,1357.2 L431.6,1356.8 L433.0,1356.4 L434.4,1355.9 L435.8,1355.5 L437.2,1355.1 L438.6,1354.7 L440.0,1354.3 L441.4,1353.9 L442.8,1353.4 L444.2,1353.0 L445.6,1352.6 L447.0,1352.2 L448.4,1351.8 L449.8,1351.4 L451.2,1351.0 L452.6,1350.6 L454.0,1350.2 L455.4,1349.7 L456.8,1349.3 L458.2,1348.9 L459.6,1348.5 L461.0,1348.1 L462.4,1347.7 L463.8,1347.3 L465.2,1346.9 L466.6,1346.5 L468.1,1346.1 L469.5,1345.7 L470.9,1345.3 L472.3,1344.9 L473.7,1344.5 L475.1,1344.1 L476.5,1343.7 L477.9,1343.4 L479.3,1343.0 L480.7,1342.6 L482.1,1342.2 L483.5,1341.8 L484.9,1341.4 L486.4,1341.0 L487.8,1340.6 L489.2,1340.3 L490.6,1339.9 L492.0,1339.5 L493.4,1339.1 L494.8,1338.7 L496.2,1338.4 L497.6,1338.0 L499.1,1337.6 L500.5,1337.2 L501.9,1336.9 L503.3,1336.5 L504.7,1336.1 L506.1,1335.7 L507.5,1335.4 L509.0,1335.0 L510.4,1334.6 L511.8,1334.3 L513.2,1333.9 L514.6,1333.6 L516.1,1333.2 L517.5,1332.8 L518.9,1332.5 L520.3,1332.1 L521.7,1331.8 L523.1,1331.4 L524.6,1331.1 L526.0,1330.7 L527.4,1330.4 L528.8,1330.0 L530.3,1329.7 L531.7,1329.3 L533.1,1329.0 L534.5,1328.7 L536.0,1328.3 L537.4,1328.0 L538.8,1327.6 L540.2,1327.3 L541.7,1327.0 L543.1,1326.6 L544.5,1326.3 L545.9,1326.0 L547.4,1325.7 L548.8,1325.3 L550.2,1325.0 L551.7,1324.7 L553.1,1324.4 L554.5,1324.1 L555.9,1323.7 L557.4,1323.4 L558.8,1323.1 L560.2,1322.8 L561.7,1322.5 L563.1,1322.2 L564.6,1321.9 L566.0,1321.6 L567.4,1321.3 L568.9,1321.0 L570.3,1320.7 L571.7,1320.4 L573.2,1320.1 L574.6,1319.8 L576.1,1319.5 L577.5,1319.2 L578.9,1318.9 L580.4,1318.6 L581.8,1318.4 L583.3,1318.1 L584.7,1317.8 L586.1,1317.5 L587.6,1317.2 L589.0,1316.9 L590.5,1316.7 L591.9,1316.4 L593.4,1316.1 L594.8,1315.8 L596.3,1315.6 L597.7,1315.3 L599.1,1315.0 L600.6,1314.7 L602.0,1314.5 L603.5,1314.2 L604.9,1313.9 L606.4,1313.7 L607.8,1313.4 L609.3,1313.1 L610.7,1312.8 L612.2,1312.6 L613.6,1312.3 L615.1,1312.0 L616.5,1311.8 L618.0,1311.5 L619.4,1311.2 L620.8,1311.0 L622.3,1310.7 L623.7,1310.4 L625.2,1310.1 L626.6,1309.9 L628.1,1309.6 L629.5,1309.3 L631.0,1309.0 L632.4,1308.8 L633.9,1308.5 L635.3,1308.2 L636.7,1307.9 L638.2,1307.7 L639.6,1307.4 L641.1,1307.1 L642.5,1306.8 L644.0,1306.5 L645.4,1306.3 L646.8,1306.0 L648.3,1305.7 L649.7,1305.4 L651.2,1305.1 L652.6,1304.8 L654.0,1304.5 L655.5,1304.2 L656.9,1303.9 L658.3,1303.6 L659.8,1303.3 L661.2,1303.0 L662.7,1302.7 L664.1,1302.4 L665.5,1302.1 L667.0,1301.8 L668.4,1301.5 L669.8,1301.2 L671.3,1300.8 L672.7,1300.5 L674.1,1300.2 L675.5,1299.9 L677.0,1299.5 L678.4,1299.2 L679.8,1298.9 L681.2,1298.5 L682.7,1298.2 L684.1,1297.9 L685.5,1297.5 L686.9,1297.2 L688.3,1296.8 L689.8,1296.5 L691.2,1296.1 L692.6,1295.7 L694.0,1295.4 L695.4,1295.0 L696.8,1294.6 L698.3,1294.3 L699.7,1293.9 L701.1,1293.5 L702.5,1293.1 L703.9,1292.7 L705.3,1292.3 L706.7,1291.9 L708.1,1291.5 L709.5,1291.1 L710.9,1290.7 L712.3,1290.3 L713.7,1289.9 L715.1,1289.5 L716.5,1289.0 L717.9,1288.6 L719.3,1288.2 L720.7,1287.7 L722.0,1287.3 L723.4,1286.8 L724.8,1286.4 L726.2,1285.9 L727.6,1285.5 L729.0,1285.0 L730.3,1284.5 L731.7,1284.0 L733.1,1283.6 L734.5,1283.1 L735.8,1282.6 L737.2,1282.1 L738.6,1281.6 L740.0,1281.1 L741.3,1280.5 L742.7,1280.0 L744.0,1279.5 L745.4,1279.0 L746.8,1278.4 L748.1,1277.9 L749.5,1277.4 L750.8,1276.8 L752.2,1276.3 L753.5,1275.7 L754.9,1275.1 L756.2,1274.6 L757.6,1274.0 L758.9,1273.4 L760.3,1272.9 L761.6,1272.3 L763.0,1271.7 L764.3,1271.1 L765.6,1270.5 L767.0,1269.9 L768.3,1269.3 L769.7,1268.7 L771.0,1268.1 L772.4,1267.5 L773.7,1266.9 L775.0,1266.3 L776.4,1265.7 L777.7,1265.1 L779.0,1264.5 L780.4,1263.9 L781.7,1263.3 L783.0,1262.7 L784.4,1262.1 L785.7,1261.4 L787.1,1260.8 L788.4,1260.2 L789.7,1259.6 L791.1,1259.0 L792.4,1258.3 L793.7,1257.7 L795.1,1257.1 L796.4,1256.5 L797.7,1255.9 L799.1,1255.2 L800.4,1254.6 L801.8,1254.0 L803.1,1253.4 L804.4,1252.8 L805.8,1252.2 L807.1,1251.5 L808.5,1250.9 L809.8,1250.3 L811.2,1249.7 L812.5,1249.1 L813.8,1248.5 L815.2,1247.9 L816.5,1247.3 L817.9,1246.7 L819.2,1246.1 L820.6,1245.5 L821.9,1244.9 L823.3,1244.3 L824.6,1243.7 L826.0,1243.1 L827.4,1242.5 L828.7,1241.9 L830.1,1241.4 L831.4,1240.8 L832.8,1240.2 L834.2,1239.6 L835.5,1239.1 L836.9,1238.5 L838.3,1238.0 L839.7,1237.4 L841.0,1236.9 L842.4,1236.3 L843.8,1235.8 L845.2,1235.2 L846.5,1234.7 L847.9,1234.2 L849.3,1233.6 L850.7,1233.1 L852.1,1232.6 L853.5,1232.0 L854.8,1231.5 L856.2,1231.0 L857.6,1230.5 L859.0,1229.9 L860.4,1229.4 L861.8,1228.9 L863.1,1228.4 L864.5,1227.8 L865.9,1227.3 L867.3,1226.8 L868.7,1226.3 L870.0,1225.7 L871.4,1225.2 L872.8,1224.7 L874.2,1224.1 L875.5,1223.6 L876.9,1223.0 L878.3,1222.5 L879.6,1222.0 L881.0,1221.4 L882.3,1220.8 L883.7,1220.3 L885.1,1219.7 L886.4,1219.2 L887.7,1218.6 L889.1,1218.0 L890.4,1217.4 L891.8,1216.8 L893.1,1216.2 L894.4,1215.6 L895.7,1215.0 L897.1,1214.4 L898.4,1213.8 L899.7,1213.1 L901.0,1212.5 L902.3,1211.9 L903.6,1211.2 L904.9,1210.6 L906.1,1209.9 L907.4,1209.2 L908.7,1208.5 L910.0,1207.8 L911.2,1207.1 L912.5,1206.4 L913.7,1205.7 L915.0,1204.9 L916.2,1204.2 L917.4,1203.4 L918.7,1202.7 L919.9,1201.9 L921.1,1201.1 L922.3,1200.3 L923.5,1199.5 L924.6,1198.6 L925.8,1197.8 L927.0,1196.9 L928.2,1196.1 L929.3,1195.2 L930.5,1194.3 L931.6,1193.4 L932.7,1192.5 L933.8,1191.5 L934.9,1190.6 L936.0,1189.6 L937.1,1188.6 L938.2,1187.6 L939.3,1186.6 L940.4,1185.6 L941.4,1184.6 L942.5,1183.6 L943.5,1182.5 L944.5,1181.5 L945.6,1180.4 L946.6,1179.3 L947.6,1178.2 L948.6,1177.1 L949.6,1176.0 L950.6,1174.9 L951.5,1173.8 L952.5,1172.6 L953.5,1171.5 L954.4,1170.3 L955.4,1169.2 L956.3,1168.0 L957.2,1166.8 L958.1,1165.7 L959.1,1164.5 L960.0,1163.3 L960.8,1162.1 L961.7,1160.9 L962.6,1159.7 L963.5,1158.5 L964.3,1157.2 L965.2,1156.0 L966.0,1154.8 L966.9,1153.6 L967.7,1152.3 L968.5,1151.1 L969.4,1149.9 L970.2,1148.6 L971.0,1147.4 L971.7,1146.1 L972.5,1144.9 L973.3,1143.6 L974.1,1142.4 L974.8,1141.1 L975.6,1139.9 L976.3,1138.6 L977.1,1137.4 L977.8,1136.1 L978.5,1134.9 L979.2,1133.6 L980.0,1132.3 L980.7,1131.1 L981.4,1129.8 L982.1,1128.6 L982.7,1127.3 L983.4,1126.0 L984.1,1124.8 L984.8,1123.5 L985.4,1122.2 L986.1,1121.0 L986.7,1119.7 L987.4,1118.4 L988.0,1117.2 L988.7,1115.9 L989.3,1114.6 L989.9,1113.3 L990.5,1112.0 L991.2,1110.8 L991.8,1109.5 L992.4,1108.2 L993.0,1106.9 L993.6,1105.6 L994.2,1104.3 L994.8,1103.0 L995.4,1101.7 L996.0,1100.4 L996.6,1099.1 L997.2,1097.8 L997.8,1096.4 L998.4,1095.1 L998.9,1093.8 L999.5,1092.5 L1000.1,1091.1 L1000.7,1089.8 L1001.2,1088.5 L1001.8,1087.1 L1002.4,1085.8 L1003.0,1084.4 L1003.5,1083.1 L1004.1,1081.8 L1004.6,1080.4 L1005.2,1079.1 L1005.8,1077.7 L1006.3,1076.4 L1006.9,1075.0 L1007.4,1073.6 L1008.0,1072.3 L1008.5,1070.9 L1009.1,1069.6 L1009.6,1068.2 L1010.2,1066.8 L1010.7,1065.5 L1011.2,1064.1 L1011.8,1062.7 L1012.3,1061.4 L1012.9,1060.0 L1013.4,1058.6 L1014.0,1057.2 L1014.5,1055.9 L1015.0,1054.5 L1015.6,1053.1 L1016.1,1051.7 L1016.6,1050.4 L1017.2,1049.0 L1017.7,1047.6 L1018.2,1046.2 L1018.8,1044.8 L1019.3,1043.5 L1019.8,1042.1 L1020.4,1040.7 L1020.9,1039.3 L1021.4,1038.0 L1022.0,1036.6 L1022.5,1035.2 L1023.0,1033.8 L1023.6,1032.4 L1024.1,1031.1 L1024.6,1029.7 L1025.2,1028.3 L1025.7,1026.9 L1026.2,1025.6 L1026.8,1024.2 L1027.3,1022.8 L1027.9,1021.4 L1028.4,1020.1 L1028.9,1018.7 L1029.5,1017.3 L1030.0,1016.0 L1030.6,1014.6 L1031.1,1013.2 L1031.6,1011.9 L1032.2,1010.5 L1032.7,1009.1 L1033.3,1007.8 L1033.8,1006.4 L1034.4,1005.1 L1034.9,1003.7 L1035.5,1002.4 L1036.0,1001.0 L1036.6,999.7 L1037.1,998.3 L1037.7,997.0 L1038.3,995.6 L1038.8,994.3 L1039.4,993.0 L1040.0,991.6 L1040.5,990.3 L1041.1,989.0 L1041.7,987.6 L1042.3,986.3 L1042.8,985.0 L1043.4,983.7 L1044.0,982.4 L1044.6,981.0 L1045.2,979.7 L1045.8,978.4 L1046.4,977.1 L1047.0,975.8 L1047.6,974.5 L1048.2,973.2 L1048.8,971.9 L1049.5,970.6 L1050.2,969.3 L1050.9,968.0 L1051.6,966.7 L1052.3,965.4 L1053.1,964.0 L1053.9,962.7 L1054.7,961.4 L1055.6,960.1 L1056.5,958.9 L1057.4,957.7 L1058.4,956.5 L1059.4,955.4 L1060.4,954.3 L1061.5,953.4 L1062.6,952.5 L1063.8,951.7 L1065.1,951.0 L1066.3,950.3 L1067.6,949.8 L1069.0,949.4 L1070.4,949.1 L1071.7,948.8 L1073.1,948.7 L1074.6,948.6 L1076.0,948.7 L1077.4,948.8 L1078.8,949.0 L1080.1,949.3 L1081.5,949.7 L1082.8,950.2 L1084.1,950.8 L1085.4,951.5 L1086.6,952.2 L1087.8,953.1 L1088.9,954.0 L1090.0,955.0 L1091.0,956.1 L1092.0,957.2 L1093.0,958.4 L1094.0,959.6 L1094.9,960.8 L1095.8,962.1 L1096.7,963.3 L1097.5,964.6 L1098.4,965.8 L1099.2,967.1 L1100.0,968.3 L1100.9,969.5 L1101.7,970.7 L1102.5,971.9 L1103.2,973.2 L1104.0,974.4 L1104.8,975.6 L1105.5,976.8 L1106.2,978.0 L1107.0,979.3 L1107.7,980.5 L1108.3,981.8 L1109.0,983.1 L1109.7,984.3 L1110.3,985.6 L1111.0,986.9 L1111.6,988.2 L1112.3,989.5 L1112.9,990.8 L1113.6,992.1 L1114.3,993.4 L1114.9,994.7 L1115.6,996.0 L1116.3,997.3 L1117.0,998.6 L1117.6,999.9 L1118.3,1001.2 L1119.0,1002.5 L1119.7,1003.8 L1120.4,1005.1 L1121.0,1006.4 L1121.7,1007.7 L1122.4,1009.0 L1123.1,1010.3 L1123.8,1011.6 L1124.5,1012.9 L1125.2,1014.2 L1125.9,1015.5 L1126.5,1016.8 L1127.2,1018.2 L1127.9,1019.5 L1128.6,1020.8 L1129.3,1022.1 L1130.0,1023.4 L1130.7,1024.7 L1131.4,1026.0 L1132.0,1027.3 L1132.7,1028.6 L1133.4,1029.9 L1134.1,1031.3 L1134.7,1032.6 L1135.4,1033.9 L1136.1,1035.2 L1136.8,1036.5 L1137.4,1037.8 L1138.1,1039.1 L1138.7,1040.4 L1139.4,1041.8 L1140.1,1043.1 L1140.7,1044.4 L1141.4,1045.7 L1142.0,1047.0 L1142.6,1048.3 L1143.3,1049.7 L1143.9,1051.0 L1144.6,1052.3 L1145.2,1053.6 L1145.8,1054.9 L1146.5,1056.2 L1147.1,1057.6 L1147.7,1058.9 L1148.3,1060.2 L1149.0,1061.5 L1149.6,1062.8 L1150.2,1064.1 L1150.8,1065.5 L1151.5,1066.8 L1152.1,1068.1 L1152.7,1069.4 L1153.3,1070.7 L1154.0,1072.0 L1154.6,1073.3 L1155.2,1074.7 L1155.8,1076.0 L1156.5,1077.3 L1157.1,1078.6 L1157.7,1079.9 L1158.4,1081.2 L1159.0,1082.5 L1159.6,1083.8 L1160.3,1085.1 L1160.9,1086.4 L1161.5,1087.7 L1162.2,1089.0 L1162.8,1090.3 L1163.5,1091.6 L1164.1,1092.9 L1164.8,1094.2 L1165.4,1095.5 L1166.1,1096.8 L1166.8,1098.1 L1167.4,1099.4 L1168.1,1100.7 L1168.8,1101.9 L1169.5,1103.2 L1170.1,1104.5 L1170.8,1105.8 L1171.5,1107.1 L1172.2,1108.3 L1172.9,1109.6 L1173.6,1110.9 L1174.3,1112.2 L1175.0,1113.4 L1175.7,1114.7 L1176.5,1115.9 L1177.2,1117.2 L1177.9,1118.5 L1178.7,1119.7 L1179.4,1121.0 L1180.2,1122.2 L1180.9,1123.5 L1181.7,1124.7 L1182.5,1126.0 L1183.3,1127.2 L1184.0,1128.5 L1184.8,1129.7 L1185.6,1130.9 L1186.4,1132.2 L1187.2,1133.4 L1188.1,1134.6 L1188.9,1135.8 L1189.7,1137.0 L1190.5,1138.3 L1191.4,1139.5 L1192.2,1140.7 L1193.1,1141.9 L1193.9,1143.1 L1194.8,1144.3 L1195.6,1145.5 L1196.5,1146.7 L1197.4,1147.9 L1198.3,1149.0 L1199.2,1150.2 L1200.1,1151.4 L1201.0,1152.6 L1201.9,1153.7 L1202.8,1154.9 L1203.7,1156.1 L1204.6,1157.2 L1205.5,1158.4 L1206.5,1159.5 L1207.4,1160.7 L1208.3,1161.8 L1209.3,1163.0 L1210.2,1164.1 L1211.2,1165.2 L1212.2,1166.3 L1213.1,1167.5 L1214.1,1168.6 L1215.1,1169.7 L1216.1,1170.8 L1217.1,1171.9 L1218.1,1173.0 L1219.1,1174.1 L1220.1,1175.2 L1221.1,1176.2 L1222.1,1177.3 L1223.1,1178.4 L1224.1,1179.4 L1225.2,1180.5 L1226.2,1181.6 L1227.2,1182.6 L1228.3,1183.7 L1229.3,1184.7 L1230.4,1185.7 L1231.4,1186.8 L1232.5,1187.8 L1233.6,1188.8 L1234.6,1189.8 L1235.7,1190.8 L1236.8,1191.8 L1237.9,1192.8 L1239.0,1193.8 L1240.1,1194.8 L1241.2,1195.7 L1242.3,1196.7 L1243.4,1197.7 L1244.5,1198.6 L1245.6,1199.6 L1246.7,1200.5 L1247.9,1201.5 L1249.0,1202.4 L1250.1,1203.3 L1251.3,1204.3 L1252.4,1205.2 L1253.6,1206.1 L1254.7,1207.0 L1255.9,1207.9 L1257.0,1208.7 L1258.2,1209.6 L1259.4,1210.5 L1260.6,1211.4 L1261.7,1212.2 L1262.9,1213.1 L1264.1,1213.9 L1265.3,1214.8 L1266.5,1215.6 L1267.7,1216.4 L1268.9,1217.2 L1270.1,1218.1 L1271.3,1218.9 L1272.5,1219.7 L1273.7,1220.5 L1274.9,1221.2 L1276.2,1222.0 L1277.4,1222.8 L1278.6,1223.6 L1279.8,1224.3 L1281.1,1225.1 L1282.3,1225.9 L1283.6,1226.6 L1284.8,1227.4 L1286.1,1228.1 L1287.3,1228.8 L1288.6,1229.6 L1289.8,1230.3 L1291.1,1231.0 L1292.3,1231.7 L1293.6,1232.4 L1294.9,1233.1 L1296.1,1233.8 L1297.4,1234.5 L1298.7,1235.2 L1300.0,1235.9 L1301.3,1236.6 L1302.5,1237.3 L1303.8,1238.0 L1305.1,1238.6 L1306.4,1239.3 L1307.7,1240.0 L1309.0,1240.6 L1310.3,1241.3 L1311.6,1241.9 L1312.9,1242.6 L1314.2,1243.2 L1315.5,1243.9 L1316.8,1244.5 L1318.1,1245.2 L1319.4,1245.8 L1320.7,1246.4 L1322.0,1247.1 L1323.3,1247.7 L1324.7,1248.3 L1326.0,1249.0 L1327.3,1249.6 L1328.6,1250.2 L1329.9,1250.8 L1331.3,1251.4 L1332.6,1252.0 L1333.9,1252.7 L1335.2,1253.3 L1336.6,1253.9 L1337.9,1254.5 L1339.2,1255.1 L1340.5,1255.7 L1341.9,1256.3 L1343.2,1256.9 L1344.5,1257.5 L1345.9,1258.1 L1347.2,1258.7 L1348.5,1259.3 L1349.9,1259.9 L1351.2,1260.5 L1352.5,1261.1 L1353.9,1261.7 L1355.2,1262.3 L1356.5,1262.9 L1357.9,1263.5 L1359.2,1264.0 L1360.6,1264.6 L1361.9,1265.2 L1363.2,1265.8 L1364.6,1266.4 L1365.9,1267.0 L1367.3,1267.6 L1368.6,1268.2 L1369.9,1268.7 L1371.3,1269.3 L1372.6,1269.9 L1374.0,1270.5 L1375.3,1271.1 L1376.7,1271.6 L1378.0,1272.2 L1379.3,1272.8 L1380.7,1273.4 L1382.0,1274.0 L1383.4,1274.5 L1384.7,1275.1 L1386.1,1275.7 L1387.4,1276.2 L1388.8,1276.8 L1390.1,1277.4 L1391.5,1278.0 L1392.8,1278.5 L1394.2,1279.1 L1395.5,1279.7 L1396.9,1280.2 L1398.2,1280.8 L1399.6,1281.4 L1400.9,1281.9 L1402.3,1282.5 L1403.7,1283.0 L1405.0,1283.6 L1406.4,1284.2 L1407.7,1284.7 L1409.1,1285.3 L1410.4,1285.8 L1411.8,1286.4 L1413.1,1286.9 L1414.5,1287.5 L1415.9,1288.1 L1417.2,1288.6 L1418.6,1289.2 L1419.9,1289.7 L1421.3,1290.3 L1422.7,1290.8 L1424.0,1291.3 L1425.4,1291.9 L1426.8,1292.4 L1428.1,1293.0 L1429.5,1293.5 L1430.8,1294.1 L1432.2,1294.6 L1433.6,1295.1 L1434.9,1295.7 L1436.3,1296.2 L1437.7,1296.8 L1439.0,1297.3 L1440.4,1297.8 L1441.8,1298.4 L1443.1,1298.9 L1444.5,1299.4 L1445.9,1300.0 L1447.2,1300.5 L1448.6,1301.0 L1450.0,1301.5 L1451.4,1302.1 L1452.7,1302.6 L1454.1,1303.1 L1455.5,1303.6 L1456.8,1304.2 L1458.2,1304.7 L1459.6,1305.2 L1461.0,1305.7 L1462.3,1306.2 L1463.7,1306.8 L1465.1,1307.3 L1466.5,1307.8 L1467.8,1308.3 L1469.2,1308.8 L1470.6,1309.3 L1472.0,1309.8 L1473.3,1310.4 L1474.7,1310.9 L1476.1,1311.4 L1477.5,1311.9 L1478.9,1312.4 L1480.2,1312.9 L1481.6,1313.4 L1483.0,1313.9 L1484.4,1314.4 L1485.8,1314.9 L1487.1,1315.4 L1488.5,1315.9 L1489.9,1316.4 L1491.3,1316.9 L1492.7,1317.4 L1494.1,1317.9 L1495.4,1318.4 L1496.8,1318.9 L1498.2,1319.3 L1499.6,1319.8 L1501.0,1320.3 L1502.4,1320.8 L1503.8,1321.3 L1505.2,1321.8 L1506.5,1322.3 L1507.9,1322.7 L1509.3,1323.2 L1510.7,1323.7 L1512.1,1324.2 L1513.5,1324.6 L1514.9,1325.1 L1516.3,1325.6 L1517.7,1326.1 L1519.0,1326.5 L1520.4,1327.0 L1521.8,1327.5 L1523.2,1328.0 L1524.6,1328.4 L1526.0,1328.9 L1527.4,1329.4 L1528.8,1329.8 L1530.2,1330.3 L1531.6,1330.7 L1533.0,1331.2 L1534.4,1331.7 L1535.8,1332.1 L1537.2,1332.6 L1538.6,1333.0 L1540.0,1333.5 L1541.4,1333.9 L1542.8,1334.4 L1544.2,1334.8 L1545.6,1335.3 L1547.0,1335.7 L1548.4,1336.2 L1549.8,1336.6 L1551.2,1337.1 L1552.6,1337.5 L1554.0,1338.0 L1555.4,1338.4 L1556.8,1338.8 L1558.2,1339.3 L1559.6,1339.7 L1561.0,1340.1 L1562.4,1340.6 L1563.8,1341.0 L1565.2,1341.4 L1566.6,1341.9 L1568.0,1342.3 L1569.4,1342.7 L1570.8,1343.2 L1572.2,1343.6 L1573.6,1344.0 L1575.0,1344.4 L1576.4,1344.8 L1577.8,1345.3 L1579.2,1345.7 L1580.7,1346.1 L1582.1,1346.5 L1583.5,1346.9 L1584.9,1347.3 L1586.3,1347.8 L1587.7,1348.2 L1589.1,1348.6 L1590.5,1349.0 L1591.9,1349.4 L1593.3,1349.8 L1594.8,1350.2 L1596.2,1350.6 L1597.6,1351.0 L1599.0,1351.4 L1600.4,1351.8 L1601.8,1352.2 L1603.2,1352.6 L1604.6,1353.0 L1606.1,1353.4 L1607.5,1353.8 L1608.9,1354.2 L1610.3,1354.6 L1611.7,1354.9 L1613.1,1355.3 L1614.6,1355.7 L1616.0,1356.1 L1617.4,1356.5 L1618.8,1356.9 L1620.2,1357.2 L1621.6,1357.6 L1623.1,1358.0 L1624.5,1358.4 L1625.9,1358.7 L1627.3,1359.1 L1628.7,1359.5 L1630.2,1359.9 L1631.6,1360.2 L1633.0,1360.6 L1634.4,1361.0 L1635.8,1361.3 L1637.3,1361.7 L1638.7,1362.0 L1640.1,1362.4 L1641.5,1362.8 L1643.0,1363.1 L1644.4,1363.5 L1645.8,1363.8 L1647.2,1364.2 L1648.6,1364.5 L1650.1,1364.9 L1651.5,1365.2 L1652.9,1365.6 L1654.3,1365.9 L1655.8,1366.3 L1657.2,1366.6 L1658.6,1366.9 L1660.0,1367.3 L1661.5,1367.6 L1662.9,1368.0 L1664.3,1368.3 L1665.8,1368.6 L1667.2,1369.0 L1668.6,1369.3 L1670.0,1369.6 L1671.5,1369.9 L1672.9,1370.3 L1674.3,1370.6 L1675.8,1370.9 L1677.2,1371.2 L1678.6,1371.6 L1680.0,1371.9 L1681.5,1372.2 L1682.9,1372.5 L1684.3,1372.8 L1685.8,1373.1 L1687.2,1373.4 L1688.6,1373.7 L1690.1,1374.1 L1691.5,1374.4 L1692.9,1374.7 L1694.4,1375.0 L1695.8,1375.3 L1697.2,1375.6 L1698.7,1375.9 L1700.1,1376.2 L1701.5,1376.5 L1703.0,1376.8 L1704.4,1377.0 L1705.8,1377.3 L1707.3,1377.6 L1708.7,1377.9 L1710.2,1378.2 L1711.6,1378.5 L1713.0,1378.8 L1714.5,1379.0 L1715.9,1379.3 L1717.3,1379.6 L1718.8,1379.9 L1720.2,1380.1 L1721.7,1380.4 L1723.1,1380.7 L1724.5,1381.0 L1726.0,1381.2 L1727.4,1381.5 L1728.8,1381.8 L1730.3,1382.0 L1731.7,1382.3 L1733.2,1382.5 L1734.6,1382.8 L1736.0,1383.1 L1737.5,1383.3 L1738.9,1383.6 L1740.4,1383.8 L1741.8,1384.1 L1743.3,1384.3 L1744.7,1384.6 L1746.1,1384.8 L1747.6,1385.1 L1749.0,1385.3 L1750.5,1385.5 L1751.9,1385.8 L1753.4,1386.0 L1754.8,1386.2 L1756.2,1386.5 L1757.7,1386.7 L1759.1,1386.9 L1760.6,1387.2 L1762.0,1387.4 L1763.5,1387.6 L1764.9,1387.8 L1766.4,1388.1 L1767.8,1388.3 L1769.2,1388.5 L1770.7,1388.7 L1772.1,1388.9 L1773.6,1389.1 L1775.0,1389.4 L1776.5,1389.6 L1777.9,1389.8 L1779.4,1390.0 L1780.8,1390.2 L1782.3,1390.4 L1783.7,1390.6 L1785.2,1390.8 L1786.6,1391.0 L1788.1,1391.2 L1789.5,1391.4 L1791.0,1391.6 L1792.4,1391.8 L1793.9,1392.0 L1795.3,1392.1 L1796.8,1392.3 L1798.2,1392.5 L1799.7,1392.7 L1801.1,1392.9 L1802.6,1393.0 L1804.0,1393.2 L1805.5,1393.4 L1806.9,1393.6 L1808.4,1393.7 L1809.8,1393.9 L1811.3,1394.1 L1812.7,1394.2 L1814.2,1394.4 L1815.6,1394.6 L1817.1,1394.7 L1818.5,1394.9 L1820.0,1395.0 L1821.4,1395.2 L1822.9,1395.4 L1824.3,1395.5 L1825.8,1395.7 L1827.3,1395.8 L1828.7,1395.9 L1830.2,1396.1 L1831.6,1396.2 L1833.1,1396.4 L1834.5,1396.5 L1836.0,1396.7 L1837.4,1396.8 L1838.9,1396.9 L1840.4,1397.1 L1841.8,1397.2 L1843.3,1397.3 L1844.7,1397.4 L1846.2,1397.6 L1847.6,1397.7 L1849.1,1397.8 L1850.5,1397.9 L1852.0,1398.0 L1853.5,1398.1 L1854.9,1398.3 L1856.4,1398.4 L1857.8,1398.5 L1859.3,1398.6 L1860.7,1398.7 L1862.2,1398.8 L1863.7,1398.9 L1865.1,1399.0 L1866.6,1399.1 L1868.0,1399.2 L1869.5,1399.3 L1871.0,1399.4 L1872.4,1399.5 L1873.9,1399.6 L1875.3,1399.6 L1876.8,1399.7 L1878.3,1399.8 L1879.7,1399.9 L1881.2,1400.0 L1882.6,1400.0 L1884.1,1400.1 L1885.6,1400.2 L1887.0,1400.3 L1888.5,1400.3 L1889.9,1400.4 L1891.4,1400.5 L1892.9,1400.5 L1894.3,1400.6 L1895.8,1400.6 L1897.2,1400.7 L1898.7,1400.8 L1900.2,1400.8 L1901.6,1400.9 L1903.1,1400.9 L1904.5,1401.0 L1906.0,1401.0 L1907.5,1401.0 L1908.9,1401.1 L1910.4,1401.1 L1911.9,1401.2 L1913.3,1401.2 L1914.8,1401.2 L1916.2,1401.3 L1917.7,1401.3 L1919.2,1401.3 L1920.6,1401.3 L1922.1,1401.4 L1923.6,1401.4 L1925.0,1401.4 L1926.5,1401.4 L1928.0,1401.4 L1929.4,1401.5 L1930.9,1401.5 L1932.3,1401.5 L1933.8,1401.5 L1935.3,1401.5 L1936.7,1401.5 L1938.2,1401.5 L1939.7,1401.5 L1941.1,1401.5 L1942.6,1401.5 L1944.1,1401.5 L1945.5,1401.5 L1947.0,1401.5 L1948.5,1401.4 L1949.9,1401.4 L1951.4,1401.4 L1952.9,1401.4 L1954.3,1401.4 L1955.8,1401.3 L1957.3,1401.3 L1958.7,1401.3 L1960.2,1401.3 L1961.7,1401.2 L1963.1,1401.2 L1964.6,1401.2 L1966.1,1401.1 L1967.5,1401.1 L1969.0,1401.0 L1970.5,1401.0 L1971.9,1400.9 L1973.4,1400.9 L1974.9,1400.8 L1976.3,1400.8 L1977.8,1400.7 L1979.3,1400.7 L1980.7,1400.6 L1982.2,1400.6 L1983.7,1400.5 L1985.1,1400.4 L1986.6,1400.4 L1988.1,1400.3 L1989.5,1400.2 L1991.0,1400.1 L1992.5,1400.1 L1993.9,1400.0 L1995.4,1399.9 L1996.9,1399.8 L1998.3,1399.7 L1999.8,1399.6 L2001.3,1399.6 L2002.7,1399.5 L2004.2,1399.4 L2005.7,1399.3 L2007.1,1399.2 L2008.6,1399.1 L2010.1,1399.0 L2011.5,1398.9 L2013.0,1398.8 L2014.5,1398.7 L2015.9,1398.5 L2017.4,1398.4 L2018.9,1398.3 L2020.4,1398.2 L2021.8,1398.1 L2023.3,1398.0 L2024.8,1397.8 L2026.2,1397.7 L2027.7,1397.6 L2029.2,1397.4 L2030.6,1397.3 L2032.1,1397.2 L2033.6,1397.0 L2035.0,1396.9 L2036.5,1396.8 L2038.0,1396.6 L2039.5,1396.5 L2040.9,1396.3 L2042.4,1396.2 L2043.9,1396.0 L2045.3,1395.8 L2046.8,1395.7 L2048.3,1395.5 L2049.7,1395.4 L2051.2,1395.2 L2052.7,1395.0 L2054.1,1394.9 L2055.6,1394.7 L2057.1,1394.5 L2058.6,1394.3 L2060.0,1394.2 L2061.5,1394.0 L2063.0,1393.8 L2064.4,1393.6 L2065.9,1393.4 L2067.4,1393.2 L2068.8,1393.0 L2070.3,1392.8 L2071.8,1392.7 L2073.2,1392.5 L2074.7,1392.3 L2076.2,1392.0 L2077.7,1391.8 L2079.1,1391.6 L2080.6,1391.4 L2082.1,1391.2 L2083.5,1391.0 L2085.0,1390.8 L2086.5,1390.6 L2087.9,1390.3 L2089.4,1390.1 L2090.9,1389.9 L2092.4,1389.6 L2093.8,1389.4 L2095.3,1389.2" stroke="#37AD6B"/>
<path d="M258.7,1416.3 L260.0,1416.0 L261.3,1415.7 L262.6,1415.3 L263.9,1415.0 L265.3,1414.7 L266.6,1414.4 L267.9,1414.0 L269.2,1413.7 L270.5,1413.4 L271.8,1413.1 L273.1,1412.7 L274.4,1412.4 L275.7,1412.1 L277.0,1411.7 L278.3,1411.4 L279.6,1411.1 L280.9,1410.7 L282.2,1410.4 L283.5,1410.0 L284.8,1409.7 L286.2,1409.3 L287.5,1409.0 L288.8,1408.7 L290.1,1408.3 L291.4,1408.0 L292.7,1407.6 L293.9,1407.3 L295.2,1406.9 L296.5,1406.5 L297.8,1406.2 L299.1,1405.8 L300.4,1405.5 L301.7,1405.1 L303.0,1404.8 L304.3,1404.4 L305.6,1404.0 L306.9,1403.7 L308.2,1403.3 L309.5,1402.9 L310.8,1402.6 L312.1,1402.2 L313.4,1401.8 L314.7,1401.5 L315.9,1401.1 L317.2,1400.7 L318.5,1400.3 L319.8,1400.0 L321.1,1399.6 L322.4,1399.2 L323.7,1398.8 L325.0,1398.5 L326.3,1398.1 L327.5,1397.7 L328.8,1397.3 L330.1,1397.0 L331.4,1396.6 L332.7,1396.2 L334.0,1395.8 L335.3,1395.4 L336.6,1395.0 L337.8,1394.7 L339.1,1394.3 L340.4,1393.9 L341.7,1393.5 L343.0,1393.1 L344.3,1392.7 L345.5,1392.3 L346.8,1392.0 L348.1,1391.6 L349.4,1391.2 L350.7,1390.8 L351.9,1390.4 L353.2,1390.0 L354.5,1389.6 L355.8,1389.2 L357.1,1388.8 L358.4,1388.4 L359.6,1388.0 L360.9,1387.7 L362.2,1387.3 L363.5,1386.9 L364.8,1386.5 L366.0,1386.1 L367.3,1385.7 L368.6,1385.3 L369.9,1384.9 L371.2,1384.5 L372.4,1384.1 L373.7,1383.7 L375.0,1383.3 L376.3,1382.9 L377.6,1382.5 L378.8,1382.1 L380.1,1381.7 L381.4,1381.3 L382.7,1380.9 L383.9,1380.5 L385.2,1380.1 L386.5,1379.7 L387.8,1379.3 L389.1,1379.0 L390.3,1378.6 L391.6,1378.2 L392.9,1377.8 L394.2,1377.4 L395.4,1377.0 L396.7,1376.6 L398.0,1376.2 L399.3,1375.8 L400.6,1375.4 L401.8,1375.0 L403.1,1374.6 L404.4,1374.2 L405.7,1373.8 L407.0,1373.4 L408.2,1373.0 L409.5,1372.6 L410.8,1372.2 L412.1,1371.8 L413.3,1371.4 L414.6,1371.1 L415.9,1370.7 L417.2,1370.3 L418.5,1369.9 L419.7,1369.5 L421.0,1369.1 L422.3,1368.7 L423.6,1368.3 L424.9,1367.9 L426.1,1367.5 L427.4,1367.1 L428.7,1366.8 L430.0,1366.4 L431.3,1366.0 L432.5,1365.6 L433.8,1365.2 L435.1,1364.8 L436.4,1364.4 L437.7,1364.1 L438.9,1363.7 L440.2,1363.3 L441.5,1362.9 L442.8,1362.5 L444.1,1362.2 L445.4,1361.8 L446.6,1361.4 L447.9,1361.0 L449.2,1360.6 L450.5,1360.3 L451.8,1359.9 L453.1,1359.5 L454.3,1359.1 L455.6,1358.8 L456.9,1358.4 L458.2,1358.0 L459.5,1357.7 L460.8,1357.3 L462.1,1356.9 L463.3,1356.6 L464.6,1356.2 L465.9,1355.8 L467.2,1355.5 L468.5,1355.1 L469.8,1354.7 L471.1,1354.4 L472.4,1354.0 L473.7,1353.7 L474.9,1353.3 L476.2,1353.0 L477.5,1352.6 L478.8,1352.2 L480.1,1351.9 L481.4,1351.5 L482.7,1351.2 L484.0,1350.8 L485.3,1350.5 L486.6,1350.2 L487.9,1349.8 L489.2,1349.5 L490.5,1349.1 L491.8,1348.8 L493.0,1348.4 L494.3,1348.1 L495.6,1347.8 L496.9,1347.4 L498.2,1347.1 L499.5,1346.8 L500.8,1346.4 L502.1,1346.1 L503.4,1345.8 L504.7,1345.5 L506.0,1345.1 L507.3,1344.8 L508.6,1344.5 L509.9,1344.2 L511.2,1343.9 L512.6,1343.5 L513.9,1343.2 L515.2,1342.9 L516.5,1342.6 L517.8,1342.3 L519.1,1342.0 L520.4,1341.7 L521.7,1341.4 L523.0,1341.1 L524.3,1340.8 L525.6,1340.5 L526.9,1340.2 L528.3,1339.9 L529.6,1339.6 L530.9,1339.3 L532.2,1339.0 L533.5,1338.7 L534.8,1338.4 L536.1,1338.2 L537.5,1337.9 L538.8,1337.6 L540.1,1337.3 L541.4,1337.0 L542.7,1336.8 L544.0,1336.5 L545.4,1336.2 L546.7,1335.9 L548.0,1335.7 L549.3,1335.4 L550.6,1335.1 L552.0,1334.9 L553.3,1334.6 L554.6,1334.3 L555.9,1334.1 L557.3,1333.8 L558.6,1333.5 L559.9,1333.3 L561.2,1333.0 L562.5,1332.8 L563.9,1332.5 L565.2,1332.3 L566.5,1332.0 L567.8,1331.7 L569.2,1331.5 L570.5,1331.2 L571.8,1331.0 L573.1,1330.7 L574.5,1330.5 L575.8,1330.2 L577.1,1330.0 L578.5,1329.7 L579.8,1329.5 L581.1,1329.2 L582.4,1329.0 L583.8,1328.7 L585.1,1328.5 L586.4,1328.2 L587.7,1328.0 L589.1,1327.7 L590.4,1327.4 L591.7,1327.2 L593.0,1326.9 L594.4,1326.7 L595.7,1326.4 L597.0,1326.2 L598.3,1325.9 L599.7,1325.7 L601.0,1325.4 L602.3,1325.2 L603.6,1324.9 L605.0,1324.7 L606.3,1324.4 L607.6,1324.2 L608.9,1323.9 L610.3,1323.6 L611.6,1323.4 L612.9,1323.1 L614.2,1322.9 L615.5,1322.6 L616.9,1322.3 L618.2,1322.1 L619.5,1321.8 L620.8,1321.5 L622.2,1321.3 L623.5,1321.0 L624.8,1320.7 L626.1,1320.5 L627.4,1320.2 L628.7,1319.9 L630.1,1319.7 L631.4,1319.4 L632.7,1319.1 L634.0,1318.8 L635.3,1318.5 L636.6,1318.3 L637.9,1318.0 L639.3,1317.7 L640.6,1317.4 L641.9,1317.1 L643.2,1316.8 L644.5,1316.5 L645.8,1316.2 L647.1,1315.9 L648.4,1315.6 L649.7,1315.3 L651.0,1315.0 L652.3,1314.7 L653.6,1314.4 L654.9,1314.1 L656.2,1313.8 L657.5,1313.5 L658.8,1313.2 L660.1,1312.9 L661.4,1312.6 L662.7,1312.2 L664.0,1311.9 L665.3,1311.6 L666.6,1311.2 L667.9,1310.9 L669.2,1310.6 L670.5,1310.2 L671.8,1309.9 L673.1,1309.6 L674.4,1309.2 L675.6,1308.9 L676.9,1308.5 L678.2,1308.1 L679.5,1307.8 L680.8,1307.4 L682.1,1307.1 L683.3,1306.7 L684.6,1306.3 L685.9,1305.9 L687.2,1305.6 L688.4,1305.2 L689.7,1304.8 L691.0,1304.4 L692.2,1304.0 L693.5,1303.6 L694.8,1303.2 L696.0,1302.8 L697.3,1302.4 L698.6,1302.0 L699.8,1301.6 L701.1,1301.2 L702.4,1300.8 L703.6,1300.3 L704.9,1299.9 L706.1,1299.5 L707.4,1299.1 L708.6,1298.6 L709.9,1298.2 L711.2,1297.8 L712.4,1297.3 L713.7,1296.9 L714.9,1296.4 L716.2,1296.0 L717.4,1295.5 L718.6,1295.1 L719.9,1294.6 L721.1,1294.2 L722.4,1293.7 L723.6,1293.3 L724.9,1292.8 L726.1,1292.3 L727.4,1291.9 L728.6,1291.4 L729.8,1290.9 L731.1,1290.4 L732.3,1290.0 L733.6,1289.5 L734.8,1289.0 L736.0,1288.5 L737.3,1288.0 L738.5,1287.6 L739.7,1287.1 L741.0,1286.6 L742.2,1286.1 L743.4,1285.6 L744.7,1285.1 L745.9,1284.6 L747.2,1284.1 L748.4,1283.6 L749.6,1283.1 L750.9,1282.6 L752.1,1282.1 L753.3,1281.6 L754.6,1281.1 L755.8,1280.6 L757.0,1280.1 L758.2,1279.6 L759.5,1279.1 L760.7,1278.6 L761.9,1278.1 L763.2,1277.6 L764.4,1277.1 L765.6,1276.6 L766.9,1276.1 L768.1,1275.6 L769.3,1275.0 L770.6,1274.5 L771.8,1274.0 L773.0,1273.5 L774.3,1273.0 L775.5,1272.5 L776.7,1272.0 L778.0,1271.5 L779.2,1271.0 L780.4,1270.4 L781.7,1269.9 L782.9,1269.4 L784.1,1268.9 L785.4,1268.4 L786.6,1267.9 L787.8,1267.4 L789.1,1266.9 L790.3,1266.3 L791.6,1265.8 L792.8,1265.3 L794.0,1264.8 L795.3,1264.3 L796.5,1263.8 L797.8,1263.3 L799.0,1262.8 L800.2,1262.3 L801.5,1261.8 L802.7,1261.3 L804.0,1260.8 L805.2,1260.3 L806.5,1259.8 L807.7,1259.3 L809.0,1258.8 L810.2,1258.3 L811.5,1257.8 L812.7,1257.3 L814.0,1256.8 L815.2,1256.3 L816.5,1255.8 L817.7,1255.3 L819.0,1254.8 L820.2,1254.3 L821.5,1253.8 L822.7,1253.3 L824.0,1252.9 L825.3,1252.4 L826.5,1251.9 L827.8,1251.4 L829.0,1250.9 L830.3,1250.5 L831.6,1250.0 L832.8,1249.5 L834.1,1249.1 L835.4,1248.6 L836.7,1248.1 L837.9,1247.7 L839.2,1247.2 L840.5,1246.7 L841.8,1246.3 L843.0,1245.8 L844.3,1245.4 L845.6,1244.9 L846.9,1244.5 L848.2,1244.0 L849.4,1243.6 L850.7,1243.1 L852.0,1242.7 L853.3,1242.3 L854.6,1241.8 L855.9,1241.4 L857.1,1240.9 L858.4,1240.5 L859.7,1240.1 L861.0,1239.6 L862.3,1239.2 L863.6,1238.7 L864.9,1238.3 L866.2,1237.9 L867.4,1237.4 L868.7,1237.0 L870.0,1236.5 L871.3,1236.1 L872.6,1235.7 L873.9,1235.2 L875.1,1234.8 L876.4,1234.3 L877.7,1233.9 L879.0,1233.4 L880.3,1233.0 L881.5,1232.5 L882.8,1232.1 L884.1,1231.6 L885.4,1231.2 L886.6,1230.7 L887.9,1230.3 L889.2,1229.8 L890.5,1229.3 L891.7,1228.9 L893.0,1228.4 L894.2,1227.9 L895.5,1227.4 L896.8,1227.0 L898.0,1226.5 L899.3,1226.0 L900.5,1225.5 L901.8,1225.0 L903.0,1224.5 L904.3,1224.0 L905.5,1223.5 L906.8,1223.0 L908.0,1222.5 L909.2,1222.0 L910.5,1221.5 L911.7,1221.0 L912.9,1220.4 L914.1,1219.9 L915.4,1219.4 L916.6,1218.8 L917.8,1218.3 L919.0,1217.7 L920.2,1217.2 L921.4,1216.6 L922.6,1216.1 L923.8,1215.5 L925.0,1214.9 L926.2,1214.3 L927.4,1213.7 L928.5,1213.1 L929.7,1212.5 L930.9,1211.9 L932.1,1211.3 L933.2,1210.7 L934.4,1210.1 L935.5,1209.5 L936.7,1208.8 L937.8,1208.2 L939.0,1207.5 L940.1,1206.9 L941.2,1206.2 L942.4,1205.5 L943.5,1204.8 L944.6,1204.1 L945.7,1203.4 L946.8,1202.7 L947.9,1202.0 L949.0,1201.3 L950.1,1200.6 L951.2,1199.8 L952.3,1199.1 L953.3,1198.3 L954.4,1197.6 L955.5,1196.8 L956.5,1196.0 L957.6,1195.2 L958.6,1194.4 L959.7,1193.6 L960.7,1192.8 L961.7,1192.0 L962.7,1191.2 L963.7,1190.3 L964.7,1189.5 L965.7,1188.6 L966.7,1187.7 L967.7,1186.8 L968.7,1186.0 L969.7,1185.1 L970.7,1184.2 L971.6,1183.2 L972.6,1182.3 L973.6,1181.4 L974.5,1180.5 L975.4,1179.5 L976.4,1178.6 L977.3,1177.6 L978.3,1176.7 L979.2,1175.7 L980.1,1174.7 L981.0,1173.7 L981.9,1172.8 L982.9,1171.8 L983.8,1170.8 L984.7,1169.8 L985.6,1168.8 L986.5,1167.8 L987.3,1166.8 L988.2,1165.7 L989.1,1164.7 L990.0,1163.7 L990.9,1162.7 L991.7,1161.6 L992.6,1160.6 L993.5,1159.6 L994.4,1158.5 L995.2,1157.5 L996.1,1156.4 L996.9,1155.4 L997.8,1154.3 L998.6,1153.3 L999.5,1152.2 L1000.3,1151.1 L1001.2,1150.1 L1002.0,1149.0 L1002.9,1148.0 L1003.7,1146.9 L1004.6,1145.8 L1005.4,1144.8 L1006.2,1143.7 L1007.1,1142.6 L1007.9,1141.6 L1008.7,1140.5 L1009.6,1139.5 L1010.4,1138.4 L1011.2,1137.3 L1012.1,1136.3 L1012.9,1135.2 L1013.7,1134.1 L1014.6,1133.1 L1015.4,1132.0 L1016.3,1131.0 L1017.1,1129.9 L1017.9,1128.9 L1018.8,1127.8 L1019.6,1126.8 L1020.5,1125.7 L1021.3,1124.7 L1022.2,1123.7 L1023.0,1122.6 L1023.9,1121.6 L1024.7,1120.6 L1025.6,1119.5 L1026.5,1118.5 L1027.4,1117.5 L1028.2,1116.5 L1029.1,1115.5 L1030.0,1114.5 L1030.9,1113.5 L1031.8,1112.5 L1032.7,1111.5 L1033.6,1110.5 L1034.5,1109.6 L1035.4,1108.6 L1036.4,1107.6 L1037.3,1106.7 L1038.2,1105.7 L1039.2,1104.8 L1040.1,1103.8 L1041.1,1102.9 L1042.1,1102.0 L1043.0,1101.1 L1044.0,1100.2 L1045.0,1099.3 L1046.0,1098.4 L1047.0,1097.5 L1048.0,1096.6 L1049.1,1095.7 L1050.1,1094.9 L1051.2,1094.0 L1052.2,1093.2 L1053.3,1092.4 L1054.3,1091.5 L1055.4,1090.7 L1056.5,1089.9 L1057.6,1089.1 L1058.7,1088.3 L1059.9,1087.6 L1061.0,1086.8 L1062.2,1086.1 L1063.3,1085.3 L1064.5,1084.6 L1065.7,1084.0 L1066.9,1083.4 L1068.1,1082.8 L1069.3,1082.2 L1070.5,1081.8 L1071.7,1081.3 L1072.9,1081.0 L1074.2,1080.7 L1075.4,1080.5 L1076.7,1080.3 L1078.0,1080.3 L1079.2,1080.3 L1080.5,1080.4 L1081.8,1080.6 L1083.1,1080.9 L1084.4,1081.2 L1085.7,1081.6 L1087.0,1082.1 L1088.2,1082.5 L1089.5,1083.1 L1090.8,1083.6 L1092.0,1084.2 L1093.3,1084.8 L1094.5,1085.4 L1095.8,1086.0 L1097.0,1086.6 L1098.2,1087.3 L1099.4,1087.9 L1100.6,1088.6 L1101.7,1089.3 L1102.9,1090.0 L1104.1,1090.7 L1105.2,1091.4 L1106.4,1092.2 L1107.5,1092.9 L1108.6,1093.7 L1109.7,1094.5 L1110.8,1095.2 L1111.9,1096.0 L1113.0,1096.8 L1114.1,1097.7 L1115.1,1098.5 L1116.2,1099.3 L1117.2,1100.2 L1118.2,1101.0 L1119.3,1101.9 L1120.3,1102.8 L1121.3,1103.7 L1122.3,1104.6 L1123.3,1105.5 L1124.2,1106.4 L1125.2,1107.3 L1126.2,1108.3 L1127.1,1109.2 L1128.1,1110.1 L1129.0,1111.1 L1130.0,1112.0 L1130.9,1113.0 L1131.8,1114.0 L1132.8,1114.9 L1133.7,1115.9 L1134.6,1116.9 L1135.5,1117.9 L1136.4,1118.9 L1137.3,1119.9 L1138.2,1120.8 L1139.1,1121.8 L1140.0,1122.8 L1140.9,1123.8 L1141.8,1124.8 L1142.7,1125.8 L1143.6,1126.8 L1144.5,1127.8 L1145.4,1128.8 L1146.3,1129.8 L1147.2,1130.8 L1148.1,1131.8 L1148.9,1132.8 L1149.8,1133.8 L1150.8,1134.8 L1151.7,1135.8 L1152.6,1136.8 L1153.5,1137.8 L1154.4,1138.8 L1155.3,1139.7 L1156.2,1140.7 L1157.1,1141.7 L1158.1,1142.7 L1159.0,1143.6 L1159.9,1144.6 L1160.8,1145.6 L1161.8,1146.5 L1162.7,1147.5 L1163.6,1148.4 L1164.6,1149.4 L1165.5,1150.3 L1166.5,1151.3 L1167.4,1152.2 L1168.3,1153.2 L1169.3,1154.1 L1170.2,1155.1 L1171.2,1156.0 L1172.2,1156.9 L1173.1,1157.9 L1174.1,1158.8 L1175.0,1159.7 L1176.0,1160.6 L1177.0,1161.6 L1177.9,1162.5 L1178.9,1163.4 L1179.9,1164.3 L1180.9,1165.2 L1181.8,1166.1 L1182.8,1167.1 L1183.8,1168.0 L1184.8,1168.9 L1185.8,1169.8 L1186.8,1170.7 L1187.8,1171.6 L1188.8,1172.4 L1189.8,1173.3 L1190.8,1174.2 L1191.8,1175.1 L1192.8,1176.0 L1193.8,1176.9 L1194.8,1177.8 L1195.8,1178.6 L1196.8,1179.5 L1197.8,1180.4 L1198.8,1181.2 L1199.8,1182.1 L1200.9,1183.0 L1201.9,1183.8 L1202.9,1184.7 L1203.9,1185.6 L1205.0,1186.4 L1206.0,1187.3 L1207.0,1188.1 L1208.1,1189.0 L1209.1,1189.8 L1210.2,1190.6 L1211.2,1191.5 L1212.2,1192.3 L1213.3,1193.2 L1214.3,1194.0 L1215.4,1194.8 L1216.4,1195.6 L1217.5,1196.5 L1218.5,1197.3 L1219.6,1198.1 L1220.7,1198.9 L1221.7,1199.7 L1222.8,1200.6 L1223.9,1201.4 L1224.9,1202.2 L1226.0,1203.0 L1227.1,1203.8 L1228.2,1204.6 L1229.2,1205.4 L1230.3,1206.2 L1231.4,1207.0 L1232.5,1207.8 L1233.6,1208.5 L1234.7,1209.3 L1235.7,1210.1 L1236.8,1210.9 L1237.9,1211.7 L1239.0,1212.4 L1240.1,1213.2 L1241.2,1214.0 L1242.3,1214.8 L1243.4,1215.5 L1244.5,1216.3 L1245.6,1217.0 L1246.7,1217.8 L1247.9,1218.6 L1249.0,1219.3 L1250.1,1220.1 L1251.2,1220.8 L1252.3,1221.6 L1253.4,1222.3 L1254.6,1223.0 L1255.7,1223.8 L1256.8,1224.5 L1257.9,1225.3 L1259.1,1226.0 L1260.2,1226.7 L1261.3,1227.4 L1262.5,1228.2 L1263.6,1228.9 L1264.7,1229.6 L1265.9,1230.3 L1267.0,1231.0 L1268.2,1231.7 L1269.3,1232.4 L1270.4,1233.1 L1271.6,1233.8 L1272.7,1234.5 L1273.9,1235.2 L1275.0,1235.9 L1276.2,1236.6 L1277.4,1237.3 L1278.5,1238.0 L1279.7,1238.7 L1280.8,1239.4 L1282.0,1240.0 L1283.2,1240.7 L1284.3,1241.4 L1285.5,1242.0 L1286.7,1242.7 L1287.8,1243.4 L1289.0,1244.0 L1290.2,1244.7 L1291.3,1245.3 L1292.5,1246.0 L1293.7,1246.6 L1294.9,1247.3 L1296.0,1247.9 L1297.2,1248.6 L1298.4,1249.2 L1299.6,1249.8 L1300.8,1250.5 L1302.0,1251.1 L1303.2,1251.7 L1304.3,1252.4 L1305.5,1253.0 L1306.7,1253.6 L1307.9,1254.2 L1309.1,1254.8 L1310.3,1255.4 L1311.5,1256.0 L1312.7,1256.6 L1313.9,1257.2 L1315.1,1257.8 L1316.3,1258.4 L1317.5,1259.0 L1318.7,1259.6 L1319.9,1260.2 L1321.1,1260.8 L1322.3,1261.4 L1323.5,1261.9 L1324.7,1262.5 L1325.9,1263.1 L1327.2,1263.6 L1328.4,1264.2 L1329.6,1264.8 L1330.8,1265.3 L1332.0,1265.9 L1333.2,1266.4 L1334.4,1267.0 L1335.7,1267.5 L1336.9,1268.1 L1338.1,1268.6 L1339.3,1269.1 L1340.6,1269.7 L1341.8,1270.2 L1343.0,1270.7 L1344.2,1271.3 L1345.5,1271.8 L1346.7,1272.3 L1347.9,1272.9 L1349.1,1273.4 L1350.4,1273.9 L1351.6,1274.4 L1352.8,1274.9 L1354.1,1275.4 L1355.3,1275.9 L1356.5,1276.4 L1357.8,1276.9 L1359.0,1277.4 L1360.2,1277.9 L1361.5,1278.4 L1362.7,1278.9 L1363.9,1279.4 L1365.2,1279.9 L1366.4,1280.4 L1367.7,1280.9 L1368.9,1281.4 L1370.2,1281.9 L1371.4,1282.4 L1372.6,1282.8 L1373.9,1283.3 L1375.1,1283.8 L1376.4,1284.3 L1377.6,1284.7 L1378.9,1285.2 L1380.1,1285.7 L1381.4,1286.2 L1382.6,1286.6 L1383.9,1287.1 L1385.1,1287.6 L1386.4,1288.0 L1387.6,1288.5 L1388.9,1289.0 L1390.1,1289.4 L1391.4,1289.9 L1392.6,1290.3 L1393.9,1290.8 L1395.1,1291.3 L1396.4,1291.7 L1397.6,1292.2 L1398.9,1292.6 L1400.1,1293.1 L1401.4,1293.5 L1402.7,1294.0 L1403.9,1294.4 L1405.2,1294.9 L1406.4,1295.3 L1407.7,1295.8 L1408.9,1296.2 L1410.2,1296.7 L1411.5,1297.1 L1412.7,1297.6 L1414.0,1298.0 L1415.2,1298.5 L1416.5,1298.9 L1417.8,1299.4 L1419.0,1299.8 L1420.3,1300.3 L1421.5,1300.7 L1422.8,1301.2 L1424.1,1301.6 L1425.3,1302.0 L1426.6,1302.5 L1427.9,1302.9 L1429.1,1303.4 L1430.4,1303.8 L1431.6,1304.3 L1432.9,1304.7 L1434.2,1305.2 L1435.4,1305.6 L1436.7,1306.1 L1438.0,1306.5 L1439.2,1306.9 L1440.5,1307.4 L1441.7,1307.8 L1443.0,1308.3 L1444.3,1308.7 L1445.5,1309.2 L1446.8,1309.6 L1448.1,1310.1 L1449.3,1310.5 L1450.6,1311.0 L1451.9,1311.4 L1453.1,1311.9 L1454.4,1312.3 L1455.6,1312.8 L1456.9,1313.2 L1458.2,1313.7 L1459.4,1314.1 L1460.7,1314.6 L1462.0,1315.0 L1463.2,1315.5 L1464.5,1315.9 L1465.8,1316.4 L1467.0,1316.8 L1468.3,1317.3 L1469.6,1317.7 L1470.8,1318.2 L1472.1,1318.6 L1473.3,1319.1 L1474.6,1319.6 L1475.9,1320.0 L1477.1,1320.5 L1478.4,1320.9 L1479.7,1321.4 L1480.9,1321.8 L1482.2,1322.3 L1483.5,1322.7 L1484.7,1323.2 L1486.0,1323.6 L1487.3,1324.1 L1488.5,1324.6 L1489.8,1325.0 L1491.1,1325.5 L1492.3,1325.9 L1493.6,1326.4 L1494.9,1326.8 L1496.1,1327.3 L1497.4,1327.7 L1498.6,1328.2 L1499.9,1328.6 L1501.2,1329.1 L1502.4,1329.6 L1503.7,1330.0 L1505.0,1330.5 L1506.2,1330.9 L1507.5,1331.4 L1508.8,1331.8 L1510.0,1332.3 L1511.3,1332.7 L1512.6,1333.2 L1513.9,1333.6 L1515.1,1334.1 L1516.4,1334.5 L1517.7,1335.0 L1518.9,1335.5 L1520.2,1335.9 L1521.5,1336.4 L1522.7,1336.8 L1524.0,1337.3 L1525.3,1337.7 L1526.5,1338.2 L1527.8,1338.6 L1529.1,1339.1 L1530.3,1339.5 L1531.6,1340.0 L1532.9,1340.4 L1534.1,1340.9 L1535.4,1341.3 L1536.7,1341.8 L1538.0,1342.2 L1539.2,1342.7 L1540.5,1343.1 L1541.8,1343.6 L1543.0,1344.0 L1544.3,1344.4 L1545.6,1344.9 L1546.8,1345.3 L1548.1,1345.8 L1549.4,1346.2 L1550.7,1346.7 L1551.9,1347.1 L1553.2,1347.6 L1554.5,1348.0 L1555.7,1348.4 L1557.0,1348.9 L1558.3,1349.3 L1559.6,1349.8 L1560.8,1350.2 L1562.1,1350.7 L1563.4,1351.1 L1564.7,1351.5 L1565.9,1352.0 L1567.2,1352.4 L1568.5,1352.8 L1569.7,1353.3 L1571.0,1353.7 L1572.3,1354.1 L1573.6,1354.6 L1574.8,1355.0 L1576.1,1355.4 L1577.4,1355.9 L1578.7,1356.3 L1579.9,1356.7 L1581.2,1357.2 L1582.5,1357.6 L1583.8,1358.0 L1585.0,1358.5 L1586.3,1358.9 L1587.6,1359.3 L1588.9,1359.7 L1590.2,1360.2 L1591.4,1360.6 L1592.7,1361.0 L1594.0,1361.4 L1595.3,1361.9 L1596.5,1362.3 L1597.8,1362.7 L1599.1,1363.1 L1600.4,1363.5 L1601.7,1364.0 L1602.9,1364.4 L1604.2,1364.8 L1605.5,1365.2 L1606.8,1365.6 L1608.0,1366.0 L1609.3,1366.4 L1610.6,1366.9 L1611.9,1367.3 L1613.2,1367.7 L1614.5,1368.1 L1615.7,1368.5 L1617.0,1368.9 L1618.3,1369.3 L1619.6,1369.7 L1620.9,1370.1 L1622.1,1370.5 L1623.4,1370.9 L1624.7,1371.3 L1626.0,1371.7 L1627.3,1372.1 L1628.6,1372.5 L1629.8,1372.9 L1631.1,1373.3 L1632.4,1373.7 L1633.7,1374.1 L1635.0,1374.5 L1636.3,1374.9 L1637.5,1375.3 L1638.8,1375.6 L1640.1,1376.0 L1641.4,1376.4 L1642.7,1376.8 L1644.0,1377.2 L1645.3,1377.6 L1646.6,1377.9 L1647.8,1378.3 L1649.1,1378.7 L1650.4,1379.1 L1651.7,1379.5 L1653.0,1379.8 L1654.3,1380.2 L1655.6,1380.6 L1656.9,1380.9 L1658.1,1381.3 L1659.4,1381.7 L1660.7,1382.0 L1662.0,1382.4 L1663.3,1382.8 L1664.6,1383.1 L1665.9,1383.5 L1667.2,1383.9 L1668.5,1384.2 L1669.8,1384.6 L1671.1,1384.9 L1672.4,1385.3 L1673.6,1385.6 L1674.9,1386.0 L1676.2,1386.3 L1677.5,1386.7 L1678.8,1387.0 L1680.1,1387.4 L1681.4,1387.7 L1682.7,1388.1 L1684.0,1388.4 L1685.3,1388.7 L1686.6,1389.1 L1687.9,1389.4 L1689.2,1389.8 L1690.5,1390.1 L1691.8,1390.4 L1693.1,1390.7 L1694.4,1391.1 L1695.7,1391.4 L1697.0,1391.7 L1698.3,1392.0 L1699.6,1392.4 L1700.9,1392.7 L1702.2,1393.0 L1703.5,1393.3 L1704.8,1393.6 L1706.1,1394.0 L1707.4,1394.3 L1708.7,1394.6 L1710.0,1394.9 L1711.3,1395.2 L1712.6,1395.5 L1713.9,1395.8 L1715.2,1396.1 L1716.5,1396.4 L1717.8,1396.7 L1719.1,1397.0 L1720.4,1397.3 L1721.7,1397.6 L1723.0,1397.9 L1724.3,1398.2 L1725.6,1398.4 L1726.9,1398.7 L1728.2,1399.0 L1729.5,1399.3 L1730.9,1399.6 L1732.2,1399.8 L1733.5,1400.1 L1734.8,1400.4 L1736.1,1400.7 L1737.4,1400.9 L1738.7,1401.2 L1740.0,1401.5 L1741.3,1401.7 L1742.6,1402.0 L1744.0,1402.3 L1745.3,1402.5 L1746.6,1402.8 L1747.9,1403.0 L1749.2,1403.3 L1750.5,1403.5 L1751.8,1403.8 L1753.1,1404.0 L1754.5,1404.3 L1755.8,1404.5 L1757.1,1404.7 L1758.4,1405.0 L1759.7,1405.2 L1761.0,1405.4 L1762.3,1405.7 L1763.7,1405.9 L1765.0,1406.1 L1766.3,1406.4 L1767.6,1406.6 L1768.9,1406.8 L1770.3,1407.0 L1771.6,1407.2 L1772.9,1407.4 L1774.2,1407.7 L1775.5,1407.9 L1776.9,1408.1 L1778.2,1408.3 L1779.5,1408.5 L1780.8,1408.7 L1782.1,1408.9 L1783.5,1409.1 L1784.8,1409.3 L1786.1,1409.5 L1787.4,1409.7 L1788.8,1409.9 L1790.1,1410.0 L1791.4,1410.2 L1792.7,1410.4 L1794.1,1410.6 L1795.4,1410.8 L1796.7,1411.0 L1798.0,1411.1 L1799.4,1411.3 L1800.7,1411.5 L1802.0,1411.6 L1803.3,1411.8 L1804.7,1412.0 L1806.0,1412.1 L1807.3,1412.3 L1808.6,1412.5 L1810.0,1412.6 L1811.3,1412.8 L1812.6,1412.9 L1814.0,1413.1 L1815.3,1413.2 L1816.6,1413.4 L1818.0,1413.5 L1819.3,1413.7 L1820.6,1413.8 L1821.9,1413.9 L1823.3,1414.1 L1824.6,1414.2 L1825.9,1414.3 L1827.3,1414.5 L1828.6,1414.6 L1829.9,1414.7 L1831.3,1414.9 L1832.6,1415.0 L1833.9,1415.1 L1835.3,1415.2 L1836.6,1415.3 L1837.9,1415.5 L1839.3,1415.6 L1840.6,1415.7 L1841.9,1415.8 L1843.3,1415.9 L1844.6,1416.0 L1845.9,1416.1 L1847.3,1416.2 L1848.6,1416.3 L1850.0,1416.4 L1851.3,1416.5 L1852.6,1416.6 L1854.0,1416.7 L1855.3,1416.8 L1856.6,1416.9 L1858.0,1417.0 L1859.3,1417.1 L1860.6,1417.2 L1862.0,1417.2 L1863.3,1417.3 L1864.7,1417.4 L1866.0,1417.5 L1867.3,1417.5 L1868.7,1417.6 L1870.0,1417.7 L1871.4,1417.8 L1872.7,1417.8 L1874.0,1417.9 L1875.4,1418.0 L1876.7,1418.0 L1878.0,1418.1 L1879.4,1418.1 L1880.7,1418.2 L1882.1,1418.2 L1883.4,1418.3 L1884.7,1418.4 L1886.1,1418.4 L1887.4,1418.4 L1888.8,1418.5 L1890.1,1418.5 L1891.5,1418.6 L1892.8,1418.6 L1894.1,1418.7 L1895.5,1418.7 L1896.8,1418.7 L1898.2,1418.8 L1899.5,1418.8 L1900.8,1418.8 L1902.2,1418.9 L1903.5,1418.9 L1904.9,1418.9 L1906.2,1418.9 L1907.5,1418.9 L1908.9,1419.0 L1910.2,1419.0 L1911.6,1419.0 L1912.9,1419.0 L1914.3,1419.0 L1915.6,1419.0 L1916.9,1419.0 L1918.3,1419.1 L1919.6,1419.1 L1921.0,1419.1 L1922.3,1419.1 L1923.7,1419.1 L1925.0,1419.1 L1926.3,1419.1 L1927.7,1419.0 L1929.0,1419.0 L1930.4,1419.0 L1931.7,1419.0 L1933.1,1419.0 L1934.4,1419.0 L1935.7,1419.0 L1937.1,1419.0 L1938.4,1418.9 L1939.8,1418.9 L1941.1,1418.9 L1942.5,1418.9 L1943.8,1418.9 L1945.1,1418.8 L1946.5,1418.8 L1947.8,1418.8 L1949.2,1418.7 L1950.5,1418.7 L1951.9,1418.7 L1953.2,1418.6 L1954.5,1418.6 L1955.9,1418.5 L1957.2,1418.5 L1958.6,1418.5 L1959.9,1418.4 L1961.3,1418.4 L1962.6,1418.3 L1963.9,1418.3 L1965.3,1418.2 L1966.6,1418.2 L1968.0,1418.1 L1969.3,1418.1 L1970.7,1418.0 L1972.0,1417.9 L1973.3,1417.9 L1974.7,1417.8 L1976.0,1417.7 L1977.4,1417.7 L1978.7,1417.6 L1980.1,1417.5 L1981.4,1417.5 L1982.7,1417.4 L1984.1,1417.3 L1985.4,1417.2 L1986.8,1417.2 L1988.1,1417.1 L1989.4,1417.0 L1990.8,1416.9 L1992.1,1416.8 L1993.5,1416.8 L1994.8,1416.7 L1996.2,1416.6 L1997.5,1416.5 L1998.8,1416.4 L2000.2,1416.3 L2001.5,1416.2 L2002.9,1416.1 L2004.2,1416.0 L2005.5,1415.9 L2006.9,1415.8 L2008.2,1415.7 L2009.6,1415.6 L2010.9,1415.5 L2012.2,1415.4 L2013.6,1415.3 L2014.9,1415.2 L2016.3,1415.1 L2017.6,1415.0 L2018.9,1414.8 L2020.3,1414.7 L2021.6,1414.6 L2022.9,1414.5 L2024.3,1414.4 L2025.6,1414.3 L2027.0,1414.1 L2028.3,1414.0 L2029.6,1413.9 L2031.0,1413.8 L2032.3,1413.6 L2033.6,1413.5 L2035.0,1413.4 L2036.3,1413.2 L2037.7,1413.1 L2039.0,1413.0 L2040.3,1412.8 L2041.7,1412.7 L2043.0,1412.5 L2044.3,1412.4 L2045.7,1412.2 L2047.0,1412.1 L2048.3,1412.0 L2049.7,1411.8 L2051.0,1411.7 L2052.3,1411.5 L2053.7,1411.4 L2055.0,1411.2 L2056.4,1411.0 L2057.7,1410.9 L2059.0,1410.7 L2060.4,1410.6 L2061.7,1410.4 L2063.0,1410.3 L2064.3,1410.1 L2065.7,1409.9 L2067.0,1409.8 L2068.3,1409.6 L2069.7,1409.4 L2071.0,1409.2 L2072.3,1409.1 L2073.7,1408.9 L2075.0,1408.7 L2076.3,1408.6 L2077.7,1408.4 L2079.0,1408.2 L2080.3,1408.0 L2081.6,1407.8 L2083.0,1407.7 L2084.3,1407.5 L2085.6,1407.3 L2087.0,1407.1 L2088.3,1406.9 L2089.6,1406.7 L2090.9,1406.5 L2092.3,1406.3 L2093.6,1406.1 L2094.9,1405.9" stroke="#B177DE"/>
</g>
<rect x="254.0" y="62.3" width="1841.5" height="1485.3" fill="none" stroke="#000" stroke-width="10.5" stroke-linejoin="miter"/>
<path d="M226.0,1547.6H254.0 M239.0,1372.9H254.0 M226.0,1198.2H254.0 M239.0,1023.5H254.0 M226.0,848.8H254.0 M239.0,674.1H254.0 M226.0,499.4H254.0 M239.0,324.7H254.0 M226.0,150.0H254.0 M254.0,1547.6V1574.6 M385.5,1547.6V1561.6 M517.0,1547.6V1574.6 M648.5,1547.6V1561.6 M780.0,1547.6V1574.6 M911.5,1547.6V1561.6 M1043.0,1547.6V1574.6 M1174.5,1547.6V1561.6 M1306.0,1547.6V1574.6 M1437.5,1547.6V1561.6 M1569.0,1547.6V1574.6 M1700.5,1547.6V1561.6 M1832.0,1547.6V1574.6 M1963.5,1547.6V1561.6 M2095.0,1547.6V1574.6" stroke="#000" stroke-width="10.5" fill="none"/>
<text transform="translate(204,1566.5) scale(0.94,1)" font-size="66" text-anchor="end">0.0</text>
<text transform="translate(204,1217.1) scale(0.94,1)" font-size="66" text-anchor="end">0.2</text>
<text transform="translate(204,867.7) scale(0.94,1)" font-size="66" text-anchor="end">0.4</text>
<text transform="translate(204,518.3) scale(0.94,1)" font-size="66" text-anchor="end">0.6</text>
<text transform="translate(204,168.9) scale(0.94,1)" font-size="66" text-anchor="end">0.8</text>
<text transform="translate(254.0,1644.9) scale(0.94,1)" font-size="66" text-anchor="middle">200</text>
<text transform="translate(517.0,1644.9) scale(0.94,1)" font-size="66" text-anchor="middle">220</text>
<text transform="translate(780.0,1644.9) scale(0.94,1)" font-size="66" text-anchor="middle">240</text>
<text transform="translate(1043.0,1644.9) scale(0.94,1)" font-size="66" text-anchor="middle">260</text>
<text transform="translate(1306.0,1644.9) scale(0.94,1)" font-size="66" text-anchor="middle">280</text>
<text transform="translate(1569.0,1644.9) scale(0.94,1)" font-size="66" text-anchor="middle">300</text>
<text transform="translate(1832.0,1644.9) scale(0.94,1)" font-size="66" text-anchor="middle">320</text>
<text transform="translate(2095.0,1644.9) scale(0.94,1)" font-size="66" text-anchor="middle">340</text>
<text transform="translate(1173.8,1765.2) scale(1.018,1)" font-size="76" font-weight="bold" text-anchor="middle">Wavelength (nm)</text>
<text transform="translate(85.8,804.9) rotate(-90) scale(1.005,1)" font-size="77" font-weight="bold" text-anchor="middle">Absorbance (a.u)</text>
<text transform="translate(282.1,334.6) scale(1.0075,1)" font-size="68.4" font-weight="bold">phenol (H-ZnO=70%)</text>
<rect x="1381.0" y="237.5" width="500.0" height="496.8" fill="none" stroke="#000" stroke-width="10.5"/>
<line x1="1391" y1="292.3" x2="1563" y2="292.3" stroke="#515151" stroke-width="10" stroke-linecap="round"/>
<text x="1585" y="319.1" font-size="77" font-weight="bold">0 min</text>
<line x1="1391" y1="389.6" x2="1563" y2="389.6" stroke="#F14040" stroke-width="10" stroke-linecap="round"/>
<text x="1585" y="416.4" font-size="77" font-weight="bold">30 min</text>
<line x1="1391" y1="487.0" x2="1563" y2="487.0" stroke="#1A6FDF" stroke-width="10" stroke-linecap="round"/>
<text x="1585" y="513.8" font-size="77" font-weight="bold">60 min</text>
<line x1="1391" y1="584.3" x2="1563" y2="584.3" stroke="#37AD6B" stroke-width="10" stroke-linecap="round"/>
<text x="1585" y="611.1" font-size="77" font-weight="bold">90 min</text>
<line x1="1391" y1="681.7" x2="1563" y2="681.7" stroke="#B177DE" stroke-width="10" stroke-linecap="round"/>
<text x="1585" y="708.5" font-size="77" font-weight="bold">120 min</text>
</svg></body></html>
